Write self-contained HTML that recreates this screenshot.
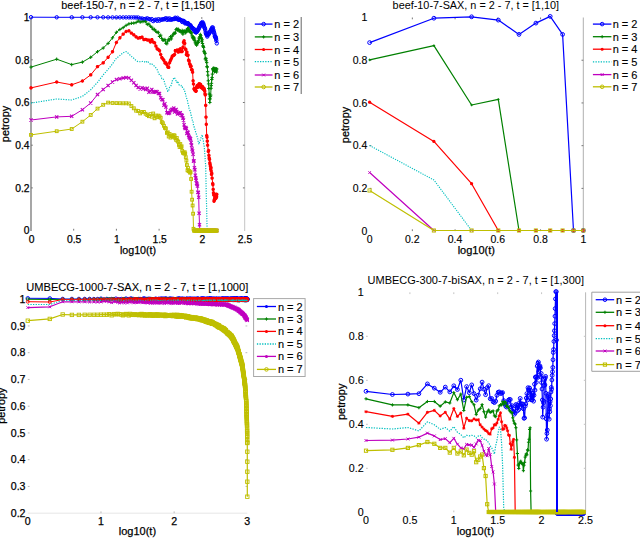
<!DOCTYPE html>
<html><head><meta charset="utf-8"><style>
html,body{margin:0;padding:0;background:#fff;width:640px;height:539px;overflow:hidden}
svg{display:block}
text{font-family:"Liberation Sans", sans-serif;fill:#000;stroke:#000;stroke-width:0.25px}
</style></head><body>
<svg width="640" height="539" viewBox="0 0 640 539">
<defs><marker id="bo" markerUnits="userSpaceOnUse" markerWidth="8" markerHeight="8" refX="4.0" refY="4.0" overflow="visible"><circle cx="4" cy="4" r="1.7" fill="none" stroke="#0000ff" stroke-width="1.0"/></marker><marker id="gp" markerUnits="userSpaceOnUse" markerWidth="8" markerHeight="8" refX="4.0" refY="4.0" overflow="visible"><path d="M2.3,4H5.7M4,2.3V5.7" stroke="#008000" stroke-width="1.0"/></marker><marker id="rs" markerUnits="userSpaceOnUse" markerWidth="8" markerHeight="8" refX="4.0" refY="4.0" overflow="visible"><path d="M2.3,4H5.7M4,2.3V5.7M2.81,2.81L5.1899999999999995,5.1899999999999995M2.81,5.1899999999999995L5.1899999999999995,2.81" stroke="#ff0000" stroke-width="1.1"/></marker><marker id="mx" markerUnits="userSpaceOnUse" markerWidth="8" markerHeight="8" refX="4.0" refY="4.0" overflow="visible"><path d="M2.4,2.4L5.6,5.6M2.4,5.6L5.6,2.4" stroke="#bf00bf" stroke-width="1.1"/></marker><marker id="ys" markerUnits="userSpaceOnUse" markerWidth="8" markerHeight="8" refX="4.0" refY="4.0" overflow="visible"><rect x="2.6" y="2.6" width="2.8" height="2.8" fill="none" stroke="#bfbf00" stroke-width="1.0"/></marker><marker id="bo2" markerUnits="userSpaceOnUse" markerWidth="8" markerHeight="8" refX="4.0" refY="4.0" overflow="visible"><circle cx="4" cy="4" r="1.9" fill="none" stroke="#0000ff" stroke-width="1.0"/></marker><marker id="gp2" markerUnits="userSpaceOnUse" markerWidth="8" markerHeight="8" refX="4.0" refY="4.0" overflow="visible"><path d="M2.7,4H5.3M4,2.7V5.3" stroke="#008000" stroke-width="0.9"/></marker><marker id="rd2" markerUnits="userSpaceOnUse" markerWidth="8" markerHeight="8" refX="4.0" refY="4.0" overflow="visible"><circle cx="4" cy="4" r="1.6" fill="#ff0000"/></marker><marker id="mx2" markerUnits="userSpaceOnUse" markerWidth="8" markerHeight="8" refX="4.0" refY="4.0" overflow="visible"><path d="M2.7,2.7L5.3,5.3M2.7,5.3L5.3,2.7" stroke="#bf00bf" stroke-width="0.9"/></marker><marker id="ys2" markerUnits="userSpaceOnUse" markerWidth="8" markerHeight="8" refX="4.0" refY="4.0" overflow="visible"><rect x="2.4" y="2.4" width="3.2" height="3.2" fill="none" stroke="#bfbf00" stroke-width="0.9"/></marker><marker id="bo3" markerUnits="userSpaceOnUse" markerWidth="8" markerHeight="8" refX="4.0" refY="4.0" overflow="visible"><circle cx="4" cy="4" r="1.8" fill="none" stroke="#0000ff" stroke-width="0.9"/></marker><marker id="go3" markerUnits="userSpaceOnUse" markerWidth="8" markerHeight="8" refX="4.0" refY="4.0" overflow="visible"><circle cx="4" cy="4" r="1.5" fill="none" stroke="#008000" stroke-width="0.9"/></marker><marker id="ro3" markerUnits="userSpaceOnUse" markerWidth="8" markerHeight="8" refX="4.0" refY="4.0" overflow="visible"><circle cx="4" cy="4" r="1.5" fill="none" stroke="#ff0000" stroke-width="0.9"/></marker><marker id="mx3" markerUnits="userSpaceOnUse" markerWidth="8" markerHeight="8" refX="4.0" refY="4.0" overflow="visible"><path d="M2.6,2.6L5.4,5.4M2.6,5.4L5.4,2.6" stroke="#bf00bf" stroke-width="0.9"/></marker><marker id="yo3" markerUnits="userSpaceOnUse" markerWidth="8" markerHeight="8" refX="4.0" refY="4.0" overflow="visible"><rect x="2.3" y="2.3" width="3.4" height="3.4" fill="none" stroke="#bfbf00" stroke-width="0.9"/></marker><marker id="bo4" markerUnits="userSpaceOnUse" markerWidth="8" markerHeight="8" refX="4.0" refY="4.0" overflow="visible"><circle cx="4" cy="4" r="1.9" fill="none" stroke="#0000ff" stroke-width="1.0"/></marker><marker id="gp4" markerUnits="userSpaceOnUse" markerWidth="8" markerHeight="8" refX="4.0" refY="4.0" overflow="visible"><path d="M2.4,4H5.6M4,2.4V5.6" stroke="#008000" stroke-width="1.0"/></marker><marker id="rs4" markerUnits="userSpaceOnUse" markerWidth="8" markerHeight="8" refX="4.0" refY="4.0" overflow="visible"><path d="M2.5,4H5.5M4,2.5V5.5M2.95,2.95L5.05,5.05M2.95,5.05L5.05,2.95" stroke="#ff0000" stroke-width="1.0"/></marker><marker id="mx4" markerUnits="userSpaceOnUse" markerWidth="8" markerHeight="8" refX="4.0" refY="4.0" overflow="visible"><path d="M2.6,2.6L5.4,5.4M2.6,5.4L5.4,2.6" stroke="#bf00bf" stroke-width="1.0"/></marker><marker id="ys4" markerUnits="userSpaceOnUse" markerWidth="8" markerHeight="8" refX="4.0" refY="4.0" overflow="visible"><rect x="2.4" y="2.4" width="3.2" height="3.2" fill="none" stroke="#bfbf00" stroke-width="1.0"/></marker></defs>
<line x1="31" y1="17" x2="31" y2="231" stroke="#6c6c6c" stroke-width="1.2" />
<line x1="244.7" y1="17" x2="244.7" y2="231" stroke="#c4c4c4" stroke-width="1" />
<text x="29.5" y="20.799999999999994" font-size="10.3" text-anchor="end" >1</text>
<text x="29.5" y="63.499999999999986" font-size="10.3" text-anchor="end" >0.8</text>
<text x="29.5" y="106.2" font-size="10.3" text-anchor="end" >0.6</text>
<text x="29.5" y="148.89999999999998" font-size="10.3" text-anchor="end" >0.4</text>
<text x="29.5" y="191.59999999999997" font-size="10.3" text-anchor="end" >0.2</text>
<text x="29.5" y="234.29999999999998" font-size="10.3" text-anchor="end" >0</text>
<text x="31.5" y="243" font-size="10.3" text-anchor="middle" >0</text>
<text x="74.2" y="243" font-size="10.3" text-anchor="middle" >0.5</text>
<text x="116.9" y="243" font-size="10.3" text-anchor="middle" >1</text>
<text x="159.60000000000002" y="243" font-size="10.3" text-anchor="middle" >1.5</text>
<text x="202.3" y="243" font-size="10.3" text-anchor="middle" >2</text>
<text x="245.0" y="243" font-size="10.3" text-anchor="middle" >2.5</text>
<text x="137.9" y="9" font-size="10.85" text-anchor="middle" style="stroke-width:0.1px">beef-150-7, n = 2 - 7, t = [1,150]</text>
<text x="138" y="253.5" font-size="10.7" text-anchor="middle" >log10(t)</text>
<text x="0" y="0" font-size="10.9" text-anchor="middle" transform="translate(9.2,124) rotate(-90)">petropy</text>
<line x1="583.3" y1="17.5" x2="583.3" y2="231" stroke="#b0b0b0" stroke-width="1" />
<text x="367.3" y="21.2" font-size="10.5" text-anchor="end" style="stroke-width:0.12px">1</text>
<text x="367.3" y="63.92" font-size="10.5" text-anchor="end" style="stroke-width:0.12px">0.8</text>
<text x="367.3" y="106.64" font-size="10.5" text-anchor="end" style="stroke-width:0.12px">0.6</text>
<text x="367.3" y="149.35999999999999" font-size="10.5" text-anchor="end" style="stroke-width:0.12px">0.4</text>
<text x="367.3" y="192.07999999999998" font-size="10.5" text-anchor="end" style="stroke-width:0.12px">0.2</text>
<text x="367.3" y="234.79999999999998" font-size="10.5" text-anchor="end" style="stroke-width:0.12px">0</text>
<text x="369.6" y="243" font-size="10.5" text-anchor="middle" style="stroke-width:0.12px">0</text>
<text x="412.34000000000003" y="243" font-size="10.5" text-anchor="middle" style="stroke-width:0.12px">0.2</text>
<text x="455.08000000000004" y="243" font-size="10.5" text-anchor="middle" style="stroke-width:0.12px">0.4</text>
<text x="497.82000000000005" y="243" font-size="10.5" text-anchor="middle" style="stroke-width:0.12px">0.6</text>
<text x="540.5600000000001" y="243" font-size="10.5" text-anchor="middle" style="stroke-width:0.12px">0.8</text>
<text x="583.3" y="243" font-size="10.5" text-anchor="middle" style="stroke-width:0.12px">1</text>
<text x="475.8" y="9" font-size="10.85" text-anchor="middle" style="stroke-width:0">beef-10-7-SAX, n = 2 - 7, t = [1,10]</text>
<text x="476.3" y="254.2" font-size="11.0" text-anchor="middle" >log10(t)</text>
<text x="0" y="0" font-size="10.9" text-anchor="middle" transform="translate(349,125) rotate(-90)">petropy</text>
<line x1="27.8" y1="513.2" x2="247.3" y2="513.2" stroke="#e6e6e6" stroke-width="1" />
<text x="25.5" y="302.9" font-size="10.6" text-anchor="end" >1</text>
<text x="25.5" y="329.65" font-size="10.6" text-anchor="end" >0.9</text>
<text x="25.5" y="356.4" font-size="10.6" text-anchor="end" >0.8</text>
<text x="25.5" y="383.15" font-size="10.6" text-anchor="end" >0.7</text>
<text x="25.5" y="409.9" font-size="10.6" text-anchor="end" >0.6</text>
<text x="25.5" y="436.65" font-size="10.6" text-anchor="end" >0.5</text>
<text x="25.5" y="463.4" font-size="10.6" text-anchor="end" >0.4</text>
<text x="25.5" y="490.15" font-size="10.6" text-anchor="end" >0.3</text>
<text x="25.5" y="516.9000000000001" font-size="10.6" text-anchor="end" >0.2</text>
<text x="27.8" y="524.5" font-size="10.6" text-anchor="middle" >0</text>
<text x="100.97" y="524.5" font-size="10.6" text-anchor="middle" >1</text>
<text x="174.14000000000001" y="524.5" font-size="10.6" text-anchor="middle" >2</text>
<text x="247.31" y="524.5" font-size="10.6" text-anchor="middle" >3</text>
<text x="137.3" y="290.8" font-size="11.1" text-anchor="middle" style="stroke-width:0.1px">UMBECG-1000-7-SAX, n = 2 - 7, t = [1,1000]</text>
<text x="137.4" y="535.4" font-size="11.0" text-anchor="middle" >log10(t)</text>
<text x="0" y="0" font-size="10.9" text-anchor="middle" transform="translate(4.5,405.7) rotate(-90)">petropy</text>
<line x1="585.6" y1="292.3" x2="585.6" y2="512" stroke="#b8b8b8" stroke-width="1" />
<text x="363.7" y="295.99999999999994" font-size="10.7" text-anchor="end" style="stroke-width:0.12px">1</text>
<text x="363.7" y="339.99999999999994" font-size="10.7" text-anchor="end" style="stroke-width:0.12px">0.8</text>
<text x="363.7" y="383.99999999999994" font-size="10.7" text-anchor="end" style="stroke-width:0.12px">0.6</text>
<text x="363.7" y="427.99999999999994" font-size="10.7" text-anchor="end" style="stroke-width:0.12px">0.4</text>
<text x="363.7" y="471.99999999999994" font-size="10.7" text-anchor="end" style="stroke-width:0.12px">0.2</text>
<text x="363.7" y="516.0" font-size="10.7" text-anchor="end" style="stroke-width:0.12px">0</text>
<text x="366.0" y="524.3" font-size="10.7" text-anchor="middle" style="stroke-width:0.12px">0</text>
<text x="409.9" y="524.3" font-size="10.7" text-anchor="middle" style="stroke-width:0.12px">0.5</text>
<text x="453.8" y="524.3" font-size="10.7" text-anchor="middle" style="stroke-width:0.12px">1</text>
<text x="497.7" y="524.3" font-size="10.7" text-anchor="middle" style="stroke-width:0.12px">1.5</text>
<text x="541.6" y="524.3" font-size="10.7" text-anchor="middle" style="stroke-width:0.12px">2</text>
<text x="585.5" y="524.3" font-size="10.7" text-anchor="middle" style="stroke-width:0.12px">2.5</text>
<text x="475.8" y="283.5" font-size="11.0" text-anchor="middle" style="stroke-width:0">UMBECG-300-7-biSAX, n = 2 - 7, t = [1,300]</text>
<text x="475.4" y="535.4" font-size="11.0" text-anchor="middle" >log10(t)</text>
<text x="0" y="0" font-size="10.9" text-anchor="middle" transform="translate(344.5,401.8) rotate(-90)">petropy</text>
<line x1="73.7" y1="228.79999999999998" x2="73.7" y2="230.6" stroke="#777" stroke-width="1" />
<line x1="73.7" y1="17.1" x2="73.7" y2="18.900000000000002" stroke="#777" stroke-width="1" />
<line x1="116.4" y1="228.79999999999998" x2="116.4" y2="230.6" stroke="#777" stroke-width="1" />
<line x1="116.4" y1="17.1" x2="116.4" y2="18.900000000000002" stroke="#777" stroke-width="1" />
<line x1="159.10000000000002" y1="228.79999999999998" x2="159.10000000000002" y2="230.6" stroke="#777" stroke-width="1" />
<line x1="159.10000000000002" y1="17.1" x2="159.10000000000002" y2="18.900000000000002" stroke="#777" stroke-width="1" />
<line x1="201.8" y1="228.79999999999998" x2="201.8" y2="230.6" stroke="#777" stroke-width="1" />
<line x1="201.8" y1="17.1" x2="201.8" y2="18.900000000000002" stroke="#777" stroke-width="1" />
<line x1="31" y1="187.89999999999998" x2="32.8" y2="187.89999999999998" stroke="#777" stroke-width="1" />
<line x1="242.89999999999998" y1="187.89999999999998" x2="244.7" y2="187.89999999999998" stroke="#777" stroke-width="1" />
<line x1="31" y1="145.2" x2="32.8" y2="145.2" stroke="#777" stroke-width="1" />
<line x1="242.89999999999998" y1="145.2" x2="244.7" y2="145.2" stroke="#777" stroke-width="1" />
<line x1="31" y1="102.5" x2="32.8" y2="102.5" stroke="#777" stroke-width="1" />
<line x1="242.89999999999998" y1="102.5" x2="244.7" y2="102.5" stroke="#777" stroke-width="1" />
<line x1="31" y1="59.79999999999998" x2="32.8" y2="59.79999999999998" stroke="#777" stroke-width="1" />
<line x1="242.89999999999998" y1="59.79999999999998" x2="244.7" y2="59.79999999999998" stroke="#777" stroke-width="1" />
<line x1="412.34000000000003" y1="229.29999999999998" x2="412.34000000000003" y2="231.1" stroke="#777" stroke-width="1" />
<line x1="412.34000000000003" y1="17.5" x2="412.34000000000003" y2="19.3" stroke="#777" stroke-width="1" />
<line x1="455.08000000000004" y1="229.29999999999998" x2="455.08000000000004" y2="231.1" stroke="#777" stroke-width="1" />
<line x1="455.08000000000004" y1="17.5" x2="455.08000000000004" y2="19.3" stroke="#777" stroke-width="1" />
<line x1="497.82000000000005" y1="229.29999999999998" x2="497.82000000000005" y2="231.1" stroke="#777" stroke-width="1" />
<line x1="497.82000000000005" y1="17.5" x2="497.82000000000005" y2="19.3" stroke="#777" stroke-width="1" />
<line x1="540.5600000000001" y1="229.29999999999998" x2="540.5600000000001" y2="231.1" stroke="#777" stroke-width="1" />
<line x1="540.5600000000001" y1="17.5" x2="540.5600000000001" y2="19.3" stroke="#777" stroke-width="1" />
<line x1="369.6" y1="188.38" x2="371.40000000000003" y2="188.38" stroke="#777" stroke-width="1" />
<line x1="581.5" y1="188.38" x2="583.3" y2="188.38" stroke="#777" stroke-width="1" />
<line x1="369.6" y1="145.66" x2="371.40000000000003" y2="145.66" stroke="#777" stroke-width="1" />
<line x1="581.5" y1="145.66" x2="583.3" y2="145.66" stroke="#777" stroke-width="1" />
<line x1="369.6" y1="102.94" x2="371.40000000000003" y2="102.94" stroke="#777" stroke-width="1" />
<line x1="581.5" y1="102.94" x2="583.3" y2="102.94" stroke="#777" stroke-width="1" />
<line x1="369.6" y1="60.22" x2="371.40000000000003" y2="60.22" stroke="#777" stroke-width="1" />
<line x1="581.5" y1="60.22" x2="583.3" y2="60.22" stroke="#777" stroke-width="1" />
<line x1="100.97" y1="511.40000000000003" x2="100.97" y2="513.2" stroke="#bbb" stroke-width="1" />
<line x1="100.97" y1="299.2" x2="100.97" y2="301.0" stroke="#bbb" stroke-width="1" />
<line x1="174.14000000000001" y1="511.40000000000003" x2="174.14000000000001" y2="513.2" stroke="#bbb" stroke-width="1" />
<line x1="174.14000000000001" y1="299.2" x2="174.14000000000001" y2="301.0" stroke="#bbb" stroke-width="1" />
<line x1="27.8" y1="486.45" x2="29.6" y2="486.45" stroke="#bbb" stroke-width="1" />
<line x1="245.5" y1="486.45" x2="247.3" y2="486.45" stroke="#bbb" stroke-width="1" />
<line x1="27.8" y1="459.7" x2="29.6" y2="459.7" stroke="#bbb" stroke-width="1" />
<line x1="245.5" y1="459.7" x2="247.3" y2="459.7" stroke="#bbb" stroke-width="1" />
<line x1="27.8" y1="432.95" x2="29.6" y2="432.95" stroke="#bbb" stroke-width="1" />
<line x1="245.5" y1="432.95" x2="247.3" y2="432.95" stroke="#bbb" stroke-width="1" />
<line x1="27.8" y1="406.2" x2="29.6" y2="406.2" stroke="#bbb" stroke-width="1" />
<line x1="245.5" y1="406.2" x2="247.3" y2="406.2" stroke="#bbb" stroke-width="1" />
<line x1="27.8" y1="379.45" x2="29.6" y2="379.45" stroke="#bbb" stroke-width="1" />
<line x1="245.5" y1="379.45" x2="247.3" y2="379.45" stroke="#bbb" stroke-width="1" />
<line x1="27.8" y1="352.7" x2="29.6" y2="352.7" stroke="#bbb" stroke-width="1" />
<line x1="245.5" y1="352.7" x2="247.3" y2="352.7" stroke="#bbb" stroke-width="1" />
<line x1="27.8" y1="325.95" x2="29.6" y2="325.95" stroke="#bbb" stroke-width="1" />
<line x1="245.5" y1="325.95" x2="247.3" y2="325.95" stroke="#bbb" stroke-width="1" />
<line x1="409.9" y1="510.49999999999994" x2="409.9" y2="512.3" stroke="#c4c4c4" stroke-width="1" />
<line x1="409.9" y1="292.3" x2="409.9" y2="294.1" stroke="#c4c4c4" stroke-width="1" />
<line x1="453.8" y1="510.49999999999994" x2="453.8" y2="512.3" stroke="#c4c4c4" stroke-width="1" />
<line x1="453.8" y1="292.3" x2="453.8" y2="294.1" stroke="#c4c4c4" stroke-width="1" />
<line x1="497.7" y1="510.49999999999994" x2="497.7" y2="512.3" stroke="#c4c4c4" stroke-width="1" />
<line x1="497.7" y1="292.3" x2="497.7" y2="294.1" stroke="#c4c4c4" stroke-width="1" />
<line x1="541.6" y1="510.49999999999994" x2="541.6" y2="512.3" stroke="#c4c4c4" stroke-width="1" />
<line x1="541.6" y1="292.3" x2="541.6" y2="294.1" stroke="#c4c4c4" stroke-width="1" />
<line x1="366" y1="468.29999999999995" x2="367.8" y2="468.29999999999995" stroke="#c4c4c4" stroke-width="1" />
<line x1="583.8000000000001" y1="468.29999999999995" x2="585.6" y2="468.29999999999995" stroke="#c4c4c4" stroke-width="1" />
<line x1="366" y1="424.29999999999995" x2="367.8" y2="424.29999999999995" stroke="#c4c4c4" stroke-width="1" />
<line x1="583.8000000000001" y1="424.29999999999995" x2="585.6" y2="424.29999999999995" stroke="#c4c4c4" stroke-width="1" />
<line x1="366" y1="380.29999999999995" x2="367.8" y2="380.29999999999995" stroke="#c4c4c4" stroke-width="1" />
<line x1="583.8000000000001" y1="380.29999999999995" x2="585.6" y2="380.29999999999995" stroke="#c4c4c4" stroke-width="1" />
<line x1="366" y1="336.29999999999995" x2="367.8" y2="336.29999999999995" stroke="#c4c4c4" stroke-width="1" />
<line x1="583.8000000000001" y1="336.29999999999995" x2="585.6" y2="336.29999999999995" stroke="#c4c4c4" stroke-width="1" />
<line x1="254.8" y1="24.1" x2="272.5" y2="24.1" stroke="#0000ff" stroke-width="1.3" />
<circle cx="263.65" cy="24.1" r="1.8" fill="none" stroke="#0000ff" stroke-width="1"/>
<text x="274.3" y="28.1" font-size="11" text-anchor="start" style="stroke-width:0.12px">n = 2</text>
<line x1="254.8" y1="36.9" x2="272.5" y2="36.9" stroke="#008000" stroke-width="1.3" />
<path d="M262.04999999999995,36.9H265.25M263.65,35.3V38.5" stroke="#008000" stroke-width="1"/>
<text x="274.3" y="40.9" font-size="11" text-anchor="start" style="stroke-width:0.12px">n = 3</text>
<line x1="254.8" y1="49.5" x2="272.5" y2="49.5" stroke="#ff0000" stroke-width="1.3" />
<circle cx="263.65" cy="49.5" r="1.5" fill="#ff0000"/>
<text x="274.3" y="53.5" font-size="11" text-anchor="start" style="stroke-width:0.12px">n = 4</text>
<line x1="254.8" y1="61.6" x2="272.5" y2="61.6" stroke="#00bfbf" stroke-width="1.3" stroke-dasharray="1.3,1.3"/>
<text x="274.3" y="65.6" font-size="11" text-anchor="start" style="stroke-width:0.12px">n = 5</text>
<line x1="254.8" y1="75" x2="272.5" y2="75" stroke="#bf00bf" stroke-width="1.3" />
<path d="M262.25,73.6L265.04999999999995,76.4M262.25,76.4L265.04999999999995,73.6" stroke="#bf00bf" stroke-width="1"/>
<text x="274.3" y="79" font-size="11" text-anchor="start" style="stroke-width:0.12px">n = 6</text>
<line x1="254.8" y1="87" x2="272.5" y2="87" stroke="#bfbf00" stroke-width="1.3" />
<circle cx="263.65" cy="87" r="1.8" fill="none" stroke="#bfbf00" stroke-width="1"/>
<text x="274.3" y="91" font-size="11" text-anchor="start" style="stroke-width:0.12px">n = 7</text>
<line x1="301.2" y1="17" x2="301.2" y2="94" stroke="#666" stroke-width="1" />
<line x1="592.9" y1="24.1" x2="611.4" y2="24.1" stroke="#0000ff" stroke-width="1.3" />
<circle cx="602.15" cy="24.1" r="1.8" fill="none" stroke="#0000ff" stroke-width="1"/>
<text x="612.7" y="28.1" font-size="11" text-anchor="start" style="stroke-width:0.12px">n = 2</text>
<line x1="592.9" y1="36.7" x2="611.4" y2="36.7" stroke="#008000" stroke-width="1.3" />
<path d="M600.55,36.7H603.75M602.15,35.1V38.300000000000004" stroke="#008000" stroke-width="1"/>
<text x="612.7" y="40.7" font-size="11" text-anchor="start" style="stroke-width:0.12px">n = 3</text>
<line x1="592.9" y1="49.2" x2="611.4" y2="49.2" stroke="#ff0000" stroke-width="1.3" />
<circle cx="602.15" cy="49.2" r="1.5" fill="#ff0000"/>
<text x="612.7" y="53.2" font-size="11" text-anchor="start" style="stroke-width:0.12px">n = 4</text>
<line x1="592.9" y1="61.8" x2="611.4" y2="61.8" stroke="#00bfbf" stroke-width="1.3" stroke-dasharray="1.3,1.3"/>
<text x="612.7" y="65.8" font-size="11" text-anchor="start" style="stroke-width:0.12px">n = 5</text>
<line x1="592.9" y1="74.6" x2="611.4" y2="74.6" stroke="#bf00bf" stroke-width="1.3" />
<path d="M600.75,73.19999999999999L603.55,76.0M600.75,76.0L603.55,73.19999999999999" stroke="#bf00bf" stroke-width="1"/>
<text x="612.7" y="78.6" font-size="11" text-anchor="start" style="stroke-width:0.12px">n = 6</text>
<line x1="592.9" y1="86.8" x2="611.4" y2="86.8" stroke="#bfbf00" stroke-width="1.3" />
<circle cx="602.15" cy="86.8" r="1.8" fill="none" stroke="#bfbf00" stroke-width="1"/>
<text x="612.7" y="90.8" font-size="11" text-anchor="start" style="stroke-width:0.12px">n = 7</text>
<line x1="256.9" y1="306.5" x2="276" y2="306.5" stroke="#0000ff" stroke-width="1.3" />
<circle cx="266.45" cy="306.5" r="1.5" fill="#0000ff"/>
<text x="277.9" y="310.5" font-size="11" text-anchor="start" style="stroke-width:0.12px">n = 2</text>
<line x1="256.9" y1="319" x2="276" y2="319" stroke="#008000" stroke-width="1.3" />
<path d="M264.84999999999997,319H268.05M266.45,317.4V320.6" stroke="#008000" stroke-width="1"/>
<text x="277.9" y="323" font-size="11" text-anchor="start" style="stroke-width:0.12px">n = 3</text>
<line x1="256.9" y1="331.4" x2="276" y2="331.4" stroke="#ff0000" stroke-width="1.3" />
<circle cx="266.45" cy="331.4" r="1.5" fill="#ff0000"/>
<text x="277.9" y="335.4" font-size="11" text-anchor="start" style="stroke-width:0.12px">n = 4</text>
<line x1="256.9" y1="344" x2="276" y2="344" stroke="#00bfbf" stroke-width="1.3" stroke-dasharray="1.3,1.3"/>
<text x="277.9" y="348" font-size="11" text-anchor="start" style="stroke-width:0.12px">n = 5</text>
<line x1="256.9" y1="356.4" x2="276" y2="356.4" stroke="#bf00bf" stroke-width="1.3" />
<circle cx="266.45" cy="356.4" r="1.5" fill="#bf00bf"/>
<text x="277.9" y="360.4" font-size="11" text-anchor="start" style="stroke-width:0.12px">n = 6</text>
<line x1="256.9" y1="369.4" x2="276" y2="369.4" stroke="#bfbf00" stroke-width="1.3" />
<circle cx="266.45" cy="369.4" r="1.8" fill="none" stroke="#bfbf00" stroke-width="1"/>
<text x="277.9" y="373.4" font-size="11" text-anchor="start" style="stroke-width:0.12px">n = 7</text>
<rect x="253.6" y="298.6" width="51.5" height="77.9" fill="none" stroke="#a8a8a8" stroke-width="1"/>
<line x1="595.7" y1="299.7" x2="614.2" y2="299.7" stroke="#0000ff" stroke-width="1.3" />
<circle cx="604.95" cy="299.7" r="1.8" fill="none" stroke="#0000ff" stroke-width="1"/>
<text x="616" y="303.7" font-size="11" text-anchor="start" style="stroke-width:0.12px">n = 2</text>
<line x1="595.7" y1="312.3" x2="614.2" y2="312.3" stroke="#008000" stroke-width="1.3" />
<path d="M603.35,312.3H606.5500000000001M604.95,310.7V313.90000000000003" stroke="#008000" stroke-width="1"/>
<text x="616" y="316.3" font-size="11" text-anchor="start" style="stroke-width:0.12px">n = 3</text>
<line x1="595.7" y1="325.7" x2="614.2" y2="325.7" stroke="#ff0000" stroke-width="1.3" />
<circle cx="604.95" cy="325.7" r="1.5" fill="#ff0000"/>
<text x="616" y="329.7" font-size="11" text-anchor="start" style="stroke-width:0.12px">n = 4</text>
<line x1="595.7" y1="338.6" x2="614.2" y2="338.6" stroke="#00bfbf" stroke-width="1.3" stroke-dasharray="1.3,1.3"/>
<text x="616" y="342.6" font-size="11" text-anchor="start" style="stroke-width:0.12px">n = 5</text>
<line x1="595.7" y1="351" x2="614.2" y2="351" stroke="#bf00bf" stroke-width="1.3" />
<path d="M603.5500000000001,349.6L606.35,352.4M603.5500000000001,352.4L606.35,349.6" stroke="#bf00bf" stroke-width="1"/>
<text x="616" y="355" font-size="11" text-anchor="start" style="stroke-width:0.12px">n = 6</text>
<line x1="595.7" y1="364.6" x2="614.2" y2="364.6" stroke="#bfbf00" stroke-width="1.3" />
<rect x="603.35" y="363.0" width="3.2" height="3.2" fill="none" stroke="#bfbf00" stroke-width="1"/>
<text x="616" y="368.6" font-size="11" text-anchor="start" style="stroke-width:0.12px">n = 7</text>
<path d="M645,292.2H591.8V371.3H645" fill="none" stroke="#a0a0a0" stroke-width="1"/>
<polyline points="31.0,17.2 56.7,17.3 71.7,17.3 82.4,17.3 90.7,17.3 97.5,17.3 103.2,17.3 108.1,17.4 112.5,17.4 116.4,17.4 119.9,17.4 123.2,17.4 126.1,17.4 128.9,17.4 131.4,17.4 133.8,17.4 136.1,17.5 138.2,17.5 140.2,18.5 142.1,18.5 143.9,19.0 145.6,18.9 147.3,18.3 148.9,19.0 150.4,19.6 151.8,19.1 153.2,21.1 154.6,20.1 155.9,19.6 157.1,20.8 158.4,19.2 159.5,20.7 160.7,19.6 161.8,19.7 162.9,19.2 163.9,19.4 164.9,18.7 165.9,18.3 166.9,19.9 167.8,18.6 168.7,19.6 169.6,18.4 170.5,19.8 171.4,19.6 172.2,19.2 173.0,19.2 173.8,18.8 174.6,19.0 175.3,17.7 176.1,18.4 176.8,19.0 177.5,17.8 178.3,19.6 178.9,19.9 179.6,19.4 180.3,19.7 181.0,20.2 181.6,20.4 182.2,22.0 182.9,21.1 183.5,20.8 184.1,21.2 184.7,22.7 185.2,23.5 185.8,22.7 186.4,23.0 186.9,23.3 187.5,23.9 188.0,23.1 188.6,24.1 189.1,24.6 189.6,25.3 190.1,25.0 190.6,25.5 191.1,26.5 191.6,28.2 192.1,27.6 192.6,28.6 193.1,28.6 193.5,28.7 194.0,29.1 194.4,31.2 194.9,31.6 195.3,31.3 195.8,32.4 196.2,32.3 196.6,32.1 197.1,31.5 197.5,29.8 197.9,30.3 198.3,29.6 198.7,28.2 199.1,28.1 199.5,26.7 199.9,25.9 200.3,25.0 200.7,25.7 201.1,23.6 201.4,22.8 201.8,23.7 202.2,23.1 202.5,22.1 202.9,23.9 203.3,23.4 203.6,24.9 204.0,26.0 204.3,27.3 204.7,27.9 205.0,28.7 205.3,30.3 205.7,32.4 206.0,33.6 206.3,34.2 206.7,34.6 207.0,35.2 207.3,36.6 207.6,35.3 208.3,33.3 208.9,34.0 209.2,33.5 209.8,32.2 210.1,31.4 210.7,31.4 211.0,29.8 211.5,28.9 211.8,29.5 212.1,27.5 212.4,28.5 212.9,27.5 213.2,29.6 213.5,30.7 213.7,32.1 214.0,32.5 214.5,34.1 214.8,36.2 215.1,37.0 215.3,36.4 215.6,37.2 215.8,38.2 216.1,39.0 216.3,40.7 216.8,43.4" fill="none" stroke="#0000ff" stroke-width="1.0" stroke-linejoin="round" marker-start="url(#bo)" marker-mid="url(#bo)" marker-end="url(#bo)"/>
<polyline points="31.0,67.1 56.7,59.2 71.7,64.6 82.4,62.1 90.7,57.3 97.5,51.7 103.2,48.0 108.1,43.4 112.5,37.8 116.4,32.3 119.9,29.5 123.2,27.6 126.1,25.4 128.9,23.9 131.4,23.3 133.8,23.1 136.1,22.5 138.2,21.0 140.2,22.1 142.1,21.6 143.9,21.5 145.6,21.6 147.3,24.4 148.9,24.0 150.4,26.3 151.8,27.2 153.2,29.5 154.6,29.4 155.9,31.3 157.1,32.4 158.4,32.3 159.5,36.5 160.7,35.2 161.8,38.4 162.9,40.3 163.9,40.3 164.9,39.5 165.9,43.3 166.9,43.8 167.8,41.1 168.7,39.2 169.6,39.9 170.5,36.6 171.4,38.9 172.2,36.0 173.0,34.9 173.8,33.3 174.6,33.2 175.3,33.1 176.1,29.6 176.8,28.8 177.5,30.0 178.3,29.2 178.9,30.8 179.6,30.9 180.3,30.8 181.0,32.1 181.6,31.9 182.2,30.4 182.9,34.2 183.5,31.4 184.1,31.4 184.7,31.0 185.2,32.8 185.8,32.6 186.4,30.6 186.9,29.9 187.5,28.4 188.0,31.3 188.6,28.2 189.1,30.6 189.6,30.7 190.1,31.5 190.6,32.6 191.1,32.8 191.6,33.0 192.1,35.9 192.6,37.8 193.1,38.0 193.5,37.1 194.0,39.9 194.4,38.1 194.9,40.4 195.3,42.8 195.8,44.0 196.2,42.9 196.6,45.2 197.1,43.9 197.5,42.8 197.9,41.9 198.3,42.4 198.7,40.3 199.1,38.1 199.5,38.0 199.9,36.6 200.3,34.4 200.7,35.6 201.1,37.6 201.4,38.6 201.8,41.7 202.2,39.8 202.5,43.5 202.9,45.8 203.3,46.4 203.6,47.4 204.0,51.2 204.3,51.9 204.7,52.9 205.0,53.6 205.3,59.0 205.7,58.2 206.0,58.8 206.3,60.8 206.7,62.6 207.0,66.6 207.3,67.1 207.6,71.7 207.9,75.2 208.3,80.8 208.6,83.9 208.9,88.5 209.2,94.1 209.5,98.9 209.8,102.5 210.1,98.9 210.4,96.7 210.7,95.1 211.0,88.3 211.2,85.6 211.5,83.3 211.8,79.5 212.1,77.6 212.4,74.1 212.7,69.8 212.9,68.5 213.5,68.8 213.7,68.1 214.0,70.6 214.3,68.6 214.5,71.7 214.8,70.8 215.1,68.6 215.3,70.4 215.6,70.9 215.8,68.8 216.1,70.7 216.3,68.9 216.6,72.0 216.8,69.0" fill="none" stroke="#008000" stroke-width="1.0" stroke-linejoin="round" marker-start="url(#gp)" marker-mid="url(#gp)" marker-end="url(#gp)"/>
<polyline points="31.0,87.9 56.7,82.0 71.7,84.8 82.4,81.0 90.7,74.9 97.5,66.6 103.2,62.9 108.1,57.3 112.5,51.7 116.4,42.5 119.9,37.8 123.2,34.1 126.1,31.5 128.9,30.9 131.4,33.1 133.8,34.9 136.1,36.9 138.2,38.1 140.2,37.7 142.1,37.2 143.9,39.6 145.6,39.4 147.3,40.0 148.9,40.1 150.4,42.0 151.8,39.6 153.2,42.0 154.6,42.8 155.9,46.1 157.1,48.8 158.4,49.5 159.5,50.7 160.7,54.5 161.8,57.6 162.9,59.0 163.9,60.3 164.9,63.0 165.9,62.8 166.9,64.6 167.8,67.0 168.7,67.4 169.6,62.7 170.5,60.4 171.4,58.5 172.2,56.4 173.0,55.6 173.8,55.2 174.6,54.5 175.3,50.7 176.1,50.8 176.8,50.3 177.5,50.2 178.3,52.1 178.9,51.0 179.6,49.6 180.3,48.8 181.0,51.6 181.6,51.1 182.2,51.5 182.9,47.3 183.5,42.4 184.1,40.8 184.7,43.4 185.2,49.0 185.8,49.4 186.4,54.6 186.9,52.1 187.5,55.3 188.0,55.1 188.6,60.1 189.1,61.1 189.6,63.8 190.1,64.5 190.6,66.6 191.1,66.2 191.6,69.6 192.1,69.9 192.6,72.2 193.1,80.8 193.5,84.0 194.0,88.8 194.4,89.3 194.9,90.4 195.3,88.6 195.8,91.3 196.2,90.8 196.6,87.0 197.1,85.9 197.5,87.3 197.9,85.1 198.3,86.2 198.7,86.9 199.1,83.9 199.5,84.1 199.9,86.2 200.3,84.5 200.7,84.5 201.1,87.3 201.4,87.3 201.8,88.0 202.2,87.5 202.5,86.6 202.9,88.2 203.3,89.2 203.6,88.9 204.0,88.3 204.3,89.6 204.7,91.1 205.0,93.8 205.3,94.9 205.7,105.4 206.0,117.1 206.3,124.3 206.7,135.5 207.0,137.2 207.3,141.1 207.6,145.2 208.3,151.5 208.6,150.5 208.9,155.4 209.2,158.1 209.5,159.4 209.8,162.8 210.1,164.4 210.4,166.2 210.7,169.1 211.0,167.6 211.2,171.0 211.5,174.4 211.8,173.3 212.1,178.1 212.7,183.5 212.9,184.7 213.2,189.4 213.5,192.9 213.7,195.0 214.0,201.2 214.3,199.7 214.5,200.0 214.8,198.9 215.1,198.4 215.3,197.8 215.6,196.2 215.8,198.4 216.1,194.3 216.3,197.3 216.6,196.7 216.8,194.4" fill="none" stroke="#ff0000" stroke-width="1.0" stroke-linejoin="round" marker-start="url(#rs)" marker-mid="url(#rs)" marker-end="url(#rs)"/>
<polyline points="31.0,103.1 56.7,99.0 71.7,100.0 82.4,96.4 90.7,89.8 97.5,82.3 103.2,74.9 108.1,69.4 112.5,63.8 116.4,58.2 119.9,55.5 123.2,52.7 126.1,51.6 128.9,53.9 131.4,56.4 133.8,58.3 136.1,60.6 138.2,61.8 140.2,61.7 142.1,61.5 143.9,61.4 145.6,62.7 147.3,61.1 148.9,62.8 150.4,64.2 151.8,63.8 153.2,65.3 154.6,66.3 155.9,67.9 157.1,69.5 158.4,72.8 159.5,74.9 160.7,75.3 161.8,78.6 162.9,78.4 163.9,80.2 164.9,83.7 165.9,86.4 166.9,88.8 167.8,91.5 168.7,90.5 169.6,87.1 170.5,86.3 171.4,84.9 172.2,81.0 173.0,80.2 173.8,77.6 174.6,77.8 175.3,79.5 176.1,80.8 176.8,82.4 177.5,81.2 178.3,82.9 178.9,84.8 179.6,85.1 180.3,85.3 181.0,85.3 181.6,87.0 182.2,86.8 182.9,88.5 183.5,89.2 184.1,89.2 184.7,91.3 185.2,92.6 185.8,95.0 186.4,98.0 186.9,98.8 187.5,100.7 188.0,103.8 188.6,105.5 189.1,108.5 189.6,109.0 190.1,111.3 190.6,112.5 191.1,115.3 191.6,116.7 192.1,118.9 192.6,121.4 193.1,121.4 193.5,125.4 194.0,126.4 194.4,128.3 194.9,129.3 195.3,131.0 195.8,132.2 196.2,133.8 196.6,134.9 197.1,136.5 197.5,137.9 197.9,139.5 198.3,142.2 198.7,143.4 199.1,144.3 199.5,141.5 199.9,140.8 200.3,140.2 200.7,139.3 201.1,137.3 201.4,136.6 201.8,136.0 202.2,134.7 202.5,136.9 202.9,139.8 203.3,140.6 203.6,143.5 204.0,144.5 204.3,147.5 204.7,152.6 205.0,155.7 205.3,161.4 205.7,165.5 206.0,179.3 206.3,195.6 206.7,209.3 207.0,225.0 207.3,230.6 207.9,230.6 208.6,230.6 209.2,230.6 209.8,230.6 210.4,230.6 211.0,230.6 211.5,230.6 212.1,230.6 212.7,230.6 213.2,230.6 213.7,230.6 214.3,230.6 214.8,230.6 215.3,230.6 215.8,230.6 216.3,230.6 216.8,230.6" fill="none" stroke="#00bfbf" stroke-width="1.2" stroke-linejoin="round" stroke-dasharray="1.2,1.3"/>
<polyline points="31.0,120.0 56.7,116.9 71.7,116.3 82.4,109.7 90.7,103.0 97.5,94.6 103.2,89.5 108.1,85.5 112.5,82.0 116.4,79.5 119.9,78.7 123.2,77.9 126.1,77.6 128.9,78.0 131.4,80.3 133.8,82.7 136.1,85.4 138.2,87.4 140.2,89.0 142.1,87.8 143.9,88.6 145.6,89.4 147.3,88.3 148.9,92.2 150.4,91.3 151.8,89.4 153.2,92.2 154.6,91.9 155.9,91.4 157.1,91.8 158.4,93.6 159.5,93.4 160.7,97.8 161.8,99.6 162.9,99.8 163.9,105.2 164.9,103.7 165.9,107.1 166.9,112.8 167.8,112.6 168.7,113.4 169.6,112.7 170.5,110.8 171.4,109.8 172.2,109.2 173.0,109.6 173.8,108.1 174.6,112.1 175.3,110.1 176.1,109.5 176.8,111.6 177.5,113.9 178.3,113.4 178.9,113.1 179.6,113.6 180.3,112.8 181.0,115.0 181.6,115.0 182.2,115.8 182.9,118.1 183.5,120.0 184.1,124.7 184.7,127.5 185.2,128.6 185.8,127.5 186.4,128.5 186.9,133.4 187.5,132.1 188.0,132.4 188.6,135.4 189.1,136.9 189.6,137.7 190.1,138.5 190.6,138.9 191.1,142.5 191.6,145.2 192.1,149.1 192.6,150.9 193.1,154.3 193.5,161.1 194.0,160.9 194.4,167.7 194.9,169.8 195.3,175.3 195.8,178.1 196.2,180.3 196.6,183.3 197.1,184.3 197.5,186.1 197.9,192.2 198.3,192.6 198.7,197.3 199.1,213.3 199.5,224.8 199.9,230.6 200.3,230.6 200.7,230.6 201.1,230.6 201.4,230.6 201.8,230.6 202.2,230.6 202.5,230.6 202.9,230.6 203.3,230.6 203.6,230.6 204.0,230.6 204.7,230.6 205.3,230.6 206.0,230.6 206.7,230.6 207.3,230.6 207.9,230.6 208.6,230.6 209.2,230.6 209.8,230.6 210.4,230.6 211.0,230.6 211.5,230.6 212.1,230.6 212.7,230.6 213.2,230.6 213.7,230.6 214.3,230.6 214.8,230.6 215.3,230.6 215.8,230.6 216.3,230.6 216.8,230.6" fill="none" stroke="#bf00bf" stroke-width="1.0" stroke-linejoin="round" marker-start="url(#mx)" marker-mid="url(#mx)" marker-end="url(#mx)"/>
<polyline points="31.0,134.9 56.7,131.2 71.7,129.0 82.4,121.7 90.7,115.0 97.5,108.6 103.2,104.8 108.1,102.6 112.5,103.0 116.4,103.1 119.9,103.2 123.2,103.3 126.1,103.3 128.9,103.5 131.4,106.0 133.8,108.3 136.1,110.7 138.2,111.0 140.2,113.4 142.1,111.9 143.9,111.9 145.6,113.8 147.3,115.1 148.9,116.2 150.4,114.1 151.8,116.7 153.2,113.5 154.6,118.3 155.9,115.6 157.1,117.2 158.4,115.6 159.5,116.4 160.7,117.8 161.8,122.0 162.9,123.2 163.9,125.8 164.9,127.9 165.9,128.5 166.9,132.9 167.8,132.3 168.7,136.5 169.6,134.0 170.5,137.6 171.4,135.5 172.2,136.1 173.0,136.9 173.8,135.2 174.6,135.6 175.3,138.2 176.1,139.9 176.8,138.0 177.5,140.9 178.3,141.9 178.9,144.9 179.6,147.0 180.3,144.0 181.0,147.1 181.6,146.3 182.2,150.7 182.9,152.7 183.5,152.8 184.1,153.5 184.7,152.2 185.2,153.6 185.8,157.2 186.4,160.6 186.9,165.0 187.5,170.3 188.0,168.0 188.6,171.1 189.1,171.0 189.6,171.6 190.1,172.7 190.6,172.2 191.1,179.0 191.6,191.7 192.1,199.7 192.6,205.5 193.1,213.7 193.5,228.8 194.0,230.6 194.4,230.6 194.9,230.6 195.3,230.6 195.8,230.6 196.2,230.6 196.6,230.6 197.1,230.6 197.5,230.6 197.9,230.6 198.3,230.6 198.7,230.6 199.1,230.6 199.5,230.6 199.9,230.6 200.3,230.6 200.7,230.6 201.1,230.6 201.4,230.6 201.8,230.6 202.2,230.6 202.5,230.6 202.9,230.6 203.3,230.6 203.6,230.6 204.0,230.6 204.7,230.6 205.3,230.6 206.0,230.6 206.7,230.6 207.3,230.6 207.9,230.6 208.6,230.6 209.2,230.6 209.8,230.6 210.4,230.6 211.0,230.6 211.5,230.6 212.1,230.6 212.7,230.6 213.2,230.6 213.7,230.6 214.3,230.6 214.8,230.6 215.3,230.6 215.8,230.6 216.3,230.6 216.8,230.6" fill="none" stroke="#bfbf00" stroke-width="1.0" stroke-linejoin="round" marker-start="url(#ys)" marker-mid="url(#ys)" marker-end="url(#ys)"/>
<polyline points="369.6,42.6 433.9,18.2 471.6,16.8 498.3,20.1 519.0,34.4 535.9,23.1 550.2,16.4 562.6,34.4 573.5,230.5 583.3,230.5" fill="none" stroke="#0000ff" stroke-width="1.2" stroke-linejoin="round" marker-start="url(#bo2)" marker-mid="url(#bo2)" marker-end="url(#bo2)"/>
<polyline points="369.6,59.9 433.9,45.6 471.6,105.0 498.3,99.4 519.0,230.5 535.9,230.5 550.2,230.5 562.6,230.5 573.5,230.5 583.3,230.5" fill="none" stroke="#008000" stroke-width="1.2" stroke-linejoin="round" marker-start="url(#gp2)" marker-mid="url(#gp2)" marker-end="url(#gp2)"/>
<polyline points="369.6,102.2 433.9,141.4 471.6,183.7 498.3,230.5 519.0,230.5 535.9,230.5 550.2,230.5 562.6,230.5 573.5,230.5 583.3,230.5" fill="none" stroke="#ff0000" stroke-width="1.2" stroke-linejoin="round" marker-start="url(#rd2)" marker-mid="url(#rd2)" marker-end="url(#rd2)"/>
<polyline points="369.6,145.5 433.9,180.0 471.6,230.5 498.3,230.5 519.0,230.5 535.9,230.5 550.2,230.5 562.6,230.5 573.5,230.5 583.3,230.5" fill="none" stroke="#00bfbf" stroke-width="1.1" stroke-linejoin="round" stroke-dasharray="1.2,1.2"/>
<polyline points="369.6,172.5 433.9,230.5 471.6,230.5 498.3,230.5 519.0,230.5 535.9,230.5 550.2,230.5 562.6,230.5 573.5,230.5 583.3,230.5" fill="none" stroke="#bf00bf" stroke-width="1.2" stroke-linejoin="round" marker-start="url(#mx2)" marker-mid="url(#mx2)" marker-end="url(#mx2)"/>
<polyline points="369.6,190.5 433.9,230.5 471.6,230.5 498.3,230.5 519.0,230.5 535.9,230.5 550.2,230.5 562.6,230.5 573.5,230.5 583.3,230.5" fill="none" stroke="#bfbf00" stroke-width="1.2" stroke-linejoin="round" marker-start="url(#ys2)" marker-mid="url(#ys2)" marker-end="url(#ys2)"/>
<polyline points="27.8,298.3 49.8,298.4 62.7,299.0 71.9,299.0 78.9,299.0 84.7,299.0 89.6,299.0 93.9,299.1 97.6,299.1 101.0,298.7 104.0,299.7 106.8,299.0 109.3,299.5 111.7,299.1 113.9,299.2 115.9,298.7 117.8,299.3 119.6,299.5 121.4,299.1 123.0,299.4 124.5,299.3 126.0,298.6 127.4,299.4 128.8,299.2 130.1,298.9 131.3,298.5 132.5,299.6 133.7,299.1 134.8,299.4 135.9,299.6 136.9,299.4 137.9,299.6 138.9,299.0 139.9,299.5 140.8,299.1 141.7,299.6 142.5,299.6 143.4,298.6 144.2,298.7 145.0,298.8 145.8,299.7 146.6,299.1 147.3,299.3 148.1,298.9 148.8,299.1 149.5,299.0 150.1,299.0 150.8,299.2 151.5,299.2 152.1,299.6 152.7,299.4 153.4,299.7 154.0,299.6 154.6,299.7 155.1,299.4 155.7,298.7 156.3,299.6 156.8,299.7 157.4,299.6 157.9,299.2 158.4,299.4 158.9,298.8 159.5,299.6 160.0,299.2 160.9,298.6 161.4,299.6 162.3,298.7 162.8,299.5 163.7,298.7 164.6,299.5 165.4,298.6 165.8,299.3 166.2,298.6 166.6,299.4 167.4,299.6 168.2,299.2 168.6,299.8 169.0,298.9 169.7,299.3 170.1,298.6 170.8,299.1 171.5,298.8 172.2,299.6 172.5,299.0 172.8,299.7 173.5,299.0 174.1,299.2 174.8,299.3 175.4,299.3 176.0,299.2 176.6,299.4 176.9,298.9 177.5,299.8 177.7,299.2 178.3,298.6 178.9,299.3 179.1,298.6 179.4,299.3 179.9,298.7 180.2,299.3 180.7,299.4 181.2,299.4 181.7,298.6 182.2,299.4 182.7,298.9 183.4,299.0 184.1,299.0 184.8,299.0 185.5,299.3 186.2,298.9 186.4,299.6 186.6,298.9 187.2,299.4 187.4,298.7 188.1,299.6 188.7,298.8 189.1,299.4 189.7,298.9 190.2,298.8 190.4,299.6 190.8,298.8 191.2,299.6 191.7,299.0 192.3,299.6 192.5,298.9 193.0,299.1 193.3,299.7 193.5,298.8 193.9,299.7 194.4,299.1 194.5,299.8 194.9,298.9 195.0,299.5 195.7,299.0 196.3,299.3 196.8,298.7 197.0,299.7 197.6,299.7 197.9,298.6 198.0,299.5 198.2,298.8 198.5,299.4 199.1,299.4 199.6,299.2 200.2,299.3 200.7,299.7 201.2,298.6 201.3,299.4 201.6,298.7 202.0,299.3 202.5,298.6 203.0,298.7 203.1,299.8 203.4,298.7 203.9,299.0 204.5,299.0 205.1,298.7 205.5,299.4 206.1,299.1 206.6,299.5 206.9,298.9 207.1,299.5 207.2,298.7 207.5,299.7 207.8,299.1 207.9,299.7 208.1,298.9 208.4,299.6 208.9,299.5 209.2,298.8 209.3,299.3 209.4,298.6 209.6,299.6 209.7,298.7 210.0,299.7 210.1,298.9 210.3,299.6 210.4,298.8 210.5,299.7 211.0,299.6 211.1,298.7 211.2,299.6 211.5,298.8 211.6,299.5 211.8,298.7 212.0,299.3 212.6,299.5 213.1,298.7 213.2,299.2 213.3,299.8 213.4,299.1 213.9,299.3 214.4,298.8 214.5,299.5 214.9,298.9 215.5,299.5 216.0,299.3 216.2,298.7 216.3,299.2 216.8,298.8 216.9,299.8 217.0,299.2 217.6,299.5 218.0,298.9 218.2,299.5 218.5,298.9 218.8,299.5 219.1,299.0 219.1,299.7 219.2,299.0 219.6,299.7 219.7,299.0 220.2,299.2 220.4,299.8 220.5,299.1 220.9,299.7 221.1,298.8 221.1,299.8 221.2,299.1 221.7,299.6 221.7,299.0 221.8,299.6 222.1,298.8 222.3,299.5 222.5,298.9 222.6,299.4 222.7,298.9 222.8,299.7 222.9,298.8 223.0,299.8 223.0,298.8 223.2,299.5 223.6,298.9 223.7,299.5 224.1,299.0 224.2,299.7 224.3,298.7 224.3,299.3 224.8,299.1 224.9,299.7 225.0,298.8 225.2,299.6 225.3,298.9 225.5,299.6 225.8,298.8 226.0,299.3 226.3,298.7 226.3,299.6 226.5,299.1 226.8,299.8 226.9,299.0 227.0,299.7 227.2,298.7 227.3,299.6 227.6,298.9 227.8,299.4 228.1,298.8 228.1,299.6 228.3,298.7 228.5,299.3 229.0,299.5 229.5,298.8 229.8,299.5 230.3,298.9 230.3,299.7 230.4,299.1 230.8,299.6 230.9,298.8 231.4,299.3 231.4,298.7 231.7,299.5 231.7,298.7 231.9,299.8 232.0,298.9 232.4,299.5 232.4,299.0 232.5,299.6 232.6,299.0 232.8,299.7 232.9,299.1 233.0,299.8 233.1,298.7 233.4,299.5 233.5,298.9 233.6,299.8 233.6,299.2 233.7,299.8 233.8,298.7 233.9,299.4 234.0,298.8 234.1,299.7 234.2,298.8 234.3,299.5 234.4,298.9 234.4,299.6 234.8,299.0 234.8,299.6 234.9,299.0 235.0,299.5 235.2,298.9 235.3,299.5 235.3,298.7 235.4,299.2 235.8,299.8 235.9,299.1 236.1,299.8 236.2,298.8 236.2,299.4 236.2,298.8 236.3,299.5 236.4,298.7 236.5,299.5 236.6,298.7 236.7,299.8 236.7,298.9 236.9,299.6 237.0,298.9 237.2,299.7 237.2,298.8 237.3,299.8 237.4,298.9 237.4,299.8 237.4,298.8 237.6,299.7 237.8,299.1 238.0,299.7 238.1,298.9 238.2,299.6 238.3,298.8 238.4,299.3 238.7,299.9 238.8,299.1 239.0,299.8 239.3,299.2 239.3,299.8 239.4,299.3 239.5,299.9 239.6,299.0 239.7,299.8 239.7,298.9 239.8,299.6 239.8,299.0 240.0,299.6 240.0,299.0 240.1,299.6 240.2,299.0 240.5,299.6 240.7,298.9 240.9,299.7 241.0,299.0 241.0,299.8 241.1,299.0 241.2,299.7 241.2,298.7 241.3,299.3 241.4,298.7 241.5,299.6 241.7,298.7 241.9,299.3 242.0,298.8 242.1,299.7 242.1,299.0 242.3,299.8 242.4,299.0 242.5,299.6 242.7,299.0 242.8,299.8 242.9,299.3 243.0,299.8 243.1,299.2 243.2,299.9 243.3,299.3 243.8,299.4 243.8,298.7 243.9,299.4 244.1,298.8 244.1,299.5 244.3,298.9 244.3,299.8 244.4,298.9 244.5,299.7 244.5,299.1 244.6,299.8 244.6,299.1 244.8,299.9 244.8,298.8 245.0,299.3 245.1,298.7 245.2,299.8 245.2,298.8 245.4,299.3 245.4,298.8 245.5,299.8 245.5,298.9 245.5,299.8 245.6,298.9 245.6,299.9 245.7,298.9 245.8,299.6 245.8,298.9 245.9,299.7 245.9,298.8 246.0,299.8 246.0,299.3 246.1,298.8 246.1,299.9 246.2,299.0 246.3,299.8 246.4,298.8 246.4,299.8 246.5,299.0 246.6,299.8 246.6,299.3 246.7,298.7 246.8,299.6 247.1,298.9 247.1,299.8 247.2,298.9 247.2,299.9 247.3,298.9 247.3,299.0" fill="none" stroke="#0000ff" stroke-width="1.0" stroke-linejoin="round" marker-start="url(#bo3)" marker-mid="url(#bo3)" marker-end="url(#bo3)"/>
<polyline points="27.8,299.3 49.8,299.5 62.7,299.4 71.9,299.4 78.9,299.4 84.7,299.4 89.6,299.4 93.9,299.4 97.6,299.4 101.0,299.1 104.0,299.5 106.8,299.2 109.3,299.1 111.7,299.0 113.9,299.1 115.9,300.0 117.8,299.9 119.6,299.8 121.4,299.8 123.0,299.1 124.5,299.2 126.0,299.6 127.4,299.7 128.8,299.9 130.1,299.9 131.3,299.0 132.5,299.6 133.7,299.7 134.8,299.5 135.9,299.1 136.9,299.4 137.9,299.0 138.9,300.0 139.9,299.9 140.8,299.5 141.7,299.2 142.5,300.0 143.4,299.6 144.2,299.9 145.0,299.9 145.8,299.5 146.6,299.4 147.3,299.6 148.1,299.4 148.8,299.1 149.5,299.3 150.1,299.9 150.8,298.9 151.5,299.0 152.1,299.6 152.7,299.2 153.4,299.5 154.0,299.5 154.6,299.3 155.1,300.1 155.7,299.1 156.3,299.4 156.8,299.1 157.4,299.7 157.9,299.2 158.4,299.3 158.9,299.8 159.5,299.3 160.0,299.6 160.9,299.0 161.9,299.2 162.3,299.8 163.3,299.2 164.1,299.1 165.0,299.0 165.4,299.7 166.2,300.1 167.0,300.1 167.4,298.9 168.2,300.1 169.0,299.4 169.3,300.0 170.1,299.9 170.4,299.3 171.1,299.4 171.8,299.4 172.2,300.1 172.5,299.3 173.2,299.0 173.8,299.9 174.1,299.4 174.8,299.0 175.1,300.1 175.4,299.4 176.0,299.0 176.6,299.1 176.9,299.7 177.2,299.1 177.7,299.5 178.3,300.1 178.6,299.1 179.1,299.9 179.7,300.1 179.9,299.5 180.5,299.4 181.0,299.4 181.5,300.0 182.0,299.5 182.2,299.0 183.0,299.2 183.4,300.0 183.7,299.1 184.1,300.0 184.8,299.4 185.1,300.0 185.7,299.8 186.2,299.0 186.6,300.0 187.2,299.3 187.7,299.9 188.3,299.6 188.9,299.3 189.1,300.0 189.5,299.0 189.7,300.1 190.2,299.0 190.4,300.0 190.6,299.1 190.8,300.1 191.2,299.0 191.6,299.7 192.1,300.1 192.3,299.2 192.6,300.0 192.8,299.0 193.0,300.0 193.2,299.1 193.3,299.9 193.9,299.6 194.4,299.7 194.9,299.9 195.4,299.0 195.7,299.7 196.3,299.1 196.6,299.9 197.0,299.0 197.1,299.9 197.4,299.0 197.6,299.6 198.2,299.2 198.5,300.1 198.6,299.1 198.9,299.7 199.5,300.0 199.8,299.0 199.9,300.0 200.1,299.2 200.3,300.0 200.7,299.1 200.9,300.0 201.0,299.2 201.6,299.6 202.0,299.0 202.2,299.6 202.7,299.0 203.0,300.0 203.1,299.4 203.4,300.1 203.9,299.3 204.0,300.0 204.1,299.5 204.3,300.0 204.4,299.3 204.5,300.0 204.9,299.5 205.5,299.1 205.8,299.9 205.9,299.2 206.1,300.0 206.2,299.4 206.7,299.4 206.9,300.1 207.0,299.2 207.1,299.7 207.4,299.0 207.6,300.1 208.2,299.1 208.3,299.7 208.8,300.1 208.9,299.1 209.1,299.7 209.6,299.3 209.7,300.1 209.8,299.4 210.0,300.0 210.2,299.3 210.6,300.2 210.8,299.4 211.0,299.9 211.1,299.3 211.7,299.7 212.1,299.1 212.3,300.1 212.7,299.3 213.0,300.1 213.3,299.1 213.6,300.1 213.7,299.2 213.8,299.9 214.1,299.3 214.7,299.1 214.8,300.2 214.9,299.3 215.0,300.0 215.5,299.8 216.1,299.1 216.1,300.0 216.3,299.0 216.5,300.0 216.6,299.3 216.7,299.8 217.1,299.0 217.2,300.0 217.3,299.0 217.4,300.1 217.5,299.1 217.6,300.0 217.8,299.2 218.0,299.8 218.1,299.2 218.2,300.0 218.6,299.4 218.7,300.0 218.9,299.1 219.0,299.7 219.4,299.0 219.5,299.7 220.0,299.4 220.1,300.0 220.6,299.6 220.7,300.2 220.8,299.4 221.3,299.2 221.4,299.9 221.7,299.1 221.7,300.1 221.9,299.6 221.9,299.0 222.0,300.0 222.2,299.0 222.3,299.9 222.4,299.0 222.4,299.5 223.0,299.7 223.0,299.0 223.2,300.1 223.4,299.3 223.5,299.9 223.7,299.2 223.9,300.0 224.0,299.3 224.1,299.9 224.3,299.4 224.8,300.1 224.8,299.1 224.9,299.9 225.0,299.1 225.0,300.2 225.1,299.2 225.3,300.1 225.5,299.6 225.7,300.2 225.8,299.2 225.9,300.0 226.0,299.1 226.0,300.1 226.1,299.3 226.3,300.1 226.3,299.1 226.4,300.0 226.5,299.2 226.5,299.8 226.6,299.0 226.7,299.9 226.7,299.2 227.0,300.2 227.1,299.4 227.2,300.2 227.3,299.2 227.4,300.1 227.6,299.0 227.7,300.1 227.9,299.1 228.1,299.6 228.5,299.0 228.7,299.7 229.2,300.2 229.3,299.2 229.4,300.0 229.7,299.0 229.8,299.8 229.9,299.1 230.3,299.9 230.4,299.1 230.5,299.7 231.1,299.0 231.2,299.9 231.2,299.1 231.6,299.7 231.6,299.2 231.7,299.8 231.9,299.3 232.2,300.0 232.2,299.2 232.4,300.0 232.5,299.2 232.6,299.8 232.7,299.0 232.7,300.0 232.8,299.1 232.9,300.1 233.1,299.3 233.2,300.0 233.3,299.2 233.4,299.8 233.7,299.0 233.7,299.6 233.9,299.1 234.1,300.1 234.1,299.3 234.2,300.0 234.3,299.2 234.3,300.1 234.5,299.0 234.6,299.6 234.7,299.1 234.8,299.8 235.1,299.1 235.2,299.9 235.3,299.4 235.6,300.1 235.7,299.2 235.7,299.9 235.8,299.4 235.9,299.9 236.1,299.3 236.5,300.1 236.6,299.5 237.2,300.0 237.3,299.4 237.3,300.0 237.4,299.2 237.4,300.2 237.5,299.0 237.6,300.0 237.6,299.0 237.7,299.8 237.7,299.3 237.8,300.1 237.9,299.5 238.3,300.2 238.3,299.5 238.5,300.2 238.5,299.4 238.8,300.1 238.9,299.5 239.4,300.0 239.4,299.4 239.5,300.1 239.5,299.5 239.6,300.1 239.6,299.1 239.7,300.1 239.9,299.5 239.9,300.0 240.1,299.3 240.2,300.0 240.3,299.3 240.5,300.0 240.5,299.4 240.6,300.0 240.7,299.1 240.7,300.0 240.7,299.0 240.8,299.8 240.9,299.3 241.1,299.9 241.6,299.9 241.7,299.3 241.9,300.1 242.0,299.4 242.1,300.0 242.1,299.2 242.2,300.0 242.3,299.3 242.4,299.9 242.5,299.3 242.6,300.0 242.6,299.1 242.6,299.7 242.7,299.2 242.8,299.9 242.8,299.3 243.0,299.8 243.2,299.1 243.3,300.0 243.3,299.4 243.4,300.0 243.4,299.5 243.6,300.0 243.9,299.5 244.0,300.1 244.0,299.1 244.1,300.0 244.2,299.4 244.5,300.1 244.6,299.3 244.6,300.1 244.7,299.2 244.7,299.9 245.0,299.2 245.0,300.1 245.1,299.1 245.2,299.6 245.5,299.0 245.6,299.7 245.6,299.2 245.7,300.1 245.7,299.4 245.8,300.2 245.9,299.2 245.9,299.9 246.0,299.4 246.3,300.0 246.4,299.4 246.4,300.1 246.5,299.6 246.7,300.1 246.9,299.1 246.9,299.7 247.3,299.6" fill="none" stroke="#008000" stroke-width="1.0" stroke-linejoin="round" marker-start="url(#go3)" marker-mid="url(#go3)" marker-end="url(#go3)"/>
<polyline points="27.8,301.7 49.8,302.0 62.7,299.5 71.9,299.5 78.9,299.5 84.7,299.5 89.6,299.5 93.9,299.5 97.6,299.5 101.0,299.8 104.0,299.3 106.8,299.8 109.3,299.7 111.7,299.4 113.9,299.5 115.9,299.7 117.8,299.2 119.6,299.6 121.4,299.8 123.0,299.3 124.5,299.8 126.0,299.7 127.4,299.8 128.8,299.3 130.1,299.1 131.3,299.8 132.5,299.8 133.7,299.4 134.8,299.1 135.9,299.2 136.9,299.6 137.9,299.3 138.9,300.0 139.9,299.6 140.8,299.2 141.7,299.7 142.5,299.4 143.4,299.9 144.2,299.9 145.0,299.5 145.8,299.6 146.6,299.7 147.3,299.8 148.1,300.0 148.8,299.0 149.5,299.4 150.1,299.6 150.8,299.3 151.5,299.6 152.1,299.1 152.7,299.9 153.4,299.5 154.0,299.1 154.6,299.7 155.1,299.3 155.7,299.2 156.3,299.5 156.8,299.1 157.4,299.2 157.9,299.9 158.4,299.7 158.9,299.0 159.5,299.8 160.0,299.0 160.9,299.9 161.9,299.3 162.8,299.4 163.7,300.0 164.1,299.1 165.0,299.7 165.8,300.0 166.2,299.2 166.6,300.0 167.4,299.7 168.2,299.4 169.0,299.8 169.7,299.5 170.4,299.4 171.1,299.7 171.8,299.5 172.5,299.2 173.2,299.1 173.8,299.4 174.5,299.5 175.1,299.3 175.7,299.9 176.3,299.3 176.9,299.5 177.5,299.4 178.0,299.8 178.6,299.7 179.1,299.9 179.4,299.4 179.9,299.3 180.5,299.5 181.0,299.9 181.2,299.3 181.7,299.4 182.5,299.8 182.7,299.1 183.0,299.7 183.7,299.9 183.9,299.1 184.4,299.9 184.8,299.4 185.5,299.5 186.2,299.4 186.8,299.6 187.4,299.1 187.9,299.6 188.5,299.6 188.9,299.1 189.1,299.8 189.3,299.1 189.5,299.6 190.1,299.9 190.6,299.8 190.8,299.1 191.0,299.9 191.4,299.4 191.9,299.3 192.5,299.8 192.8,299.3 193.0,299.9 193.2,299.1 193.3,299.9 193.5,299.3 193.7,300.0 193.9,299.4 194.4,299.1 194.5,299.8 195.0,299.0 195.7,300.0 196.3,299.3 197.0,299.5 197.6,299.1 198.2,299.2 198.8,299.4 199.3,299.9 199.6,299.2 200.2,299.8 200.5,299.2 201.0,299.4 201.2,300.0 201.7,299.6 202.2,300.0 202.4,299.2 202.9,299.0 203.0,299.8 203.1,299.1 203.3,299.7 203.4,299.1 203.9,299.8 204.0,299.2 204.3,299.9 204.4,299.3 204.7,299.9 204.9,299.2 205.3,300.0 205.5,299.1 205.6,299.9 206.2,299.3 206.5,299.9 206.9,299.2 207.2,299.8 207.8,299.8 207.9,299.1 208.0,299.6 208.1,299.0 208.4,299.9 208.5,299.0 208.6,299.9 209.1,299.1 209.6,299.8 209.7,299.1 209.8,299.6 210.3,300.0 210.4,299.4 210.9,299.3 211.1,299.9 211.2,299.2 211.4,299.8 211.9,299.1 212.2,299.9 212.7,299.9 212.8,299.2 212.9,299.9 213.2,299.3 213.6,299.9 213.8,299.0 214.0,299.6 214.3,299.1 214.6,299.9 215.1,299.5 215.3,300.0 215.8,299.1 216.1,299.6 216.6,299.8 216.6,299.1 216.7,300.0 216.9,299.1 217.1,299.7 217.3,299.2 217.6,299.9 217.8,299.1 217.9,299.6 218.4,299.9 218.5,299.3 218.7,299.9 218.7,299.0 218.8,300.0 218.9,299.5 219.4,299.8 219.7,299.1 219.7,299.7 220.0,299.0 220.0,299.5 220.3,299.0 220.4,300.0 220.6,299.5 221.0,300.0 221.1,299.4 221.7,300.0 221.8,299.0 221.9,299.7 222.1,299.0 222.1,299.9 222.4,299.2 222.8,299.7 223.0,299.2 223.1,299.7 223.2,299.1 223.3,299.9 223.4,299.4 223.6,299.9 223.7,299.2 224.2,299.6 224.7,299.3 224.8,300.0 224.9,299.3 225.1,300.0 225.3,299.2 225.5,299.7 225.7,299.1 226.2,299.4 226.7,299.9 226.8,299.2 227.0,299.9 227.1,299.2 227.1,299.8 227.4,299.1 227.4,299.8 227.5,299.1 228.0,299.0 228.3,299.7 228.5,299.2 229.1,299.6 229.6,299.6 230.1,299.9 230.3,299.3 230.5,299.9 230.5,299.2 230.7,299.7 230.9,299.0 231.0,299.9 231.4,299.4 231.5,299.9 231.6,299.1 231.7,299.6 232.2,299.3 232.2,299.8 232.5,299.2 232.5,299.8 232.6,299.0 232.7,299.8 232.7,299.0 232.9,299.6 233.2,299.1 233.4,300.0 233.4,299.4 234.0,299.2 234.0,300.0 234.3,299.0 234.3,299.9 234.4,299.1 234.5,299.7 234.7,299.1 234.9,299.7 235.1,299.0 235.1,299.5 235.3,299.0 235.6,299.6 236.1,299.7 236.2,299.0 236.5,299.8 236.8,299.2 236.9,300.0 237.1,299.0 237.2,299.5 237.3,299.0 237.4,300.0 237.5,299.0 237.7,300.0 237.8,299.3 237.9,299.8 237.9,299.1 238.0,299.6 238.0,299.1 238.0,299.6 238.4,299.1 238.4,300.0 238.5,299.0 238.6,299.9 238.8,299.1 238.9,299.7 239.3,299.1 239.4,299.8 239.5,299.1 239.5,299.8 239.5,299.0 239.7,299.9 239.8,299.3 240.1,299.9 240.1,299.1 240.1,299.9 240.2,299.4 240.7,299.8 240.7,299.0 240.8,299.6 240.8,299.0 240.9,299.9 241.1,299.2 241.3,300.0 241.4,299.2 241.5,299.9 241.5,299.2 241.5,299.9 241.7,299.1 241.7,299.8 241.8,299.0 241.9,299.6 242.4,299.2 242.5,299.9 242.5,299.3 242.6,299.8 242.8,299.1 242.8,299.9 242.8,299.2 243.1,300.0 243.1,299.3 243.1,299.9 243.2,299.2 243.4,299.8 243.5,299.1 243.6,299.7 243.8,299.1 243.9,299.6 244.2,299.0 244.3,300.0 244.3,299.3 244.5,299.8 244.6,299.1 244.6,299.7 244.6,299.2 244.8,299.7 244.8,299.2 244.8,299.8 245.0,299.2 245.2,299.8 245.3,299.1 245.4,299.7 245.6,299.2 245.6,300.0 245.7,299.2 245.8,299.9 245.9,299.4 246.1,300.0 246.1,299.4 246.5,300.0 246.5,299.2 246.6,299.9 246.8,299.0 246.8,299.8 246.8,299.1 246.9,299.9 246.9,299.0 247.0,299.6 247.1,299.0 247.2,300.0 247.2,299.0 247.3,299.1" fill="none" stroke="#ff0000" stroke-width="1.0" stroke-linejoin="round" marker-start="url(#ro3)" marker-mid="url(#ro3)" marker-end="url(#ro3)"/>
<polyline points="27.8,304.5 49.8,304.5 62.7,300.3 71.9,300.3 78.9,300.3 84.7,300.3 89.6,300.3 93.9,300.3 97.6,300.3 101.0,300.4 104.0,300.6 106.8,300.0 109.3,300.3 111.7,300.1 113.9,300.3 115.9,300.4 117.8,299.9 119.6,300.1 121.4,300.1 123.0,300.6 124.5,300.5 126.0,300.0 127.4,300.5 128.8,300.0 130.1,300.4 131.3,300.0 132.5,299.9 133.7,300.6 134.8,300.1 135.9,300.1 136.9,300.7 137.9,300.6 138.9,300.1 139.9,300.7 140.8,300.3 141.7,300.4 142.5,300.1 143.4,300.7 144.2,300.5 145.0,300.7 145.8,300.6 146.6,300.1 147.3,300.2 148.1,300.0 148.8,300.0 149.5,300.0 150.1,300.1 150.8,300.4 151.5,299.9 152.1,300.4 152.7,300.2 153.4,300.1 154.0,300.6 154.6,300.3 155.1,300.2 155.7,300.3 156.3,300.5 156.8,299.9 157.4,300.7 157.9,299.9 158.4,300.5 158.9,300.6 159.5,299.9 160.0,300.5 160.9,300.4 161.9,299.9 162.8,300.7 163.3,300.1 164.1,300.6 165.0,300.2 165.8,300.3 166.6,300.0 167.0,300.5 167.8,300.6 168.2,299.9 168.6,300.7 169.0,300.0 169.7,300.4 170.4,300.2 171.1,300.3 171.8,300.2 172.5,300.0 173.2,300.5 173.8,300.0 174.5,300.7 175.1,300.2 175.7,300.4 176.3,300.3 176.9,299.9 177.2,300.6 177.5,299.9 178.0,300.6 178.3,300.0 178.9,300.7 179.4,300.5 179.7,300.0 180.2,300.0 180.5,300.6 181.0,300.3 181.5,300.6 182.0,300.3 182.7,300.3 183.4,300.0 183.9,300.7 184.6,300.3 185.3,300.1 185.9,300.2 186.6,300.5 187.2,300.2 187.9,300.3 188.5,300.1 188.7,300.7 189.3,299.9 189.9,300.4 190.4,300.4 191.0,300.4 191.6,300.2 192.1,300.5 192.6,300.3 193.2,300.6 193.7,300.5 194.2,300.0 194.7,300.4 195.4,300.4 196.0,300.3 196.6,300.4 197.3,299.9 197.9,300.1 198.5,300.4 199.1,299.9 199.6,300.0 199.8,300.6 200.1,299.9 200.6,300.2 201.2,300.2 201.7,300.0 202.1,300.7 202.6,300.6 202.7,299.9 203.3,300.0 203.5,300.6 203.9,300.1 204.1,300.7 204.7,300.1 204.9,300.7 205.2,300.2 205.3,300.7 205.6,300.1 206.2,300.1 206.7,300.1 206.9,300.6 207.1,300.1 207.4,300.7 207.5,300.1 208.1,300.5 208.2,300.0 208.3,300.5 208.8,300.3 209.4,299.9 209.7,300.6 210.0,299.9 210.1,300.5 210.6,300.3 211.1,300.1 211.3,300.6 211.4,300.0 211.5,300.6 212.1,300.0 212.7,300.4 213.2,300.4 213.3,299.9 213.4,300.5 213.8,299.9 213.9,300.6 214.3,300.0 214.5,300.6 214.6,300.0 215.1,300.0 215.5,300.5 216.1,300.3 216.6,300.4 217.1,300.1 217.7,300.0 218.3,300.4 218.8,300.5 218.9,299.9 219.1,300.7 219.2,300.1 219.4,300.7 219.6,300.0 220.1,300.2 220.6,300.3 221.1,300.1 221.3,300.6 221.5,299.9 221.7,300.6 221.9,300.0 222.3,300.6 222.4,300.0 222.9,300.6 223.4,300.0 223.9,300.1 224.1,300.7 224.3,300.1 224.8,300.7 225.0,299.9 225.2,300.5 225.3,299.9 225.4,300.7 225.5,300.2 226.0,299.9 226.5,300.7 226.6,300.0 227.1,300.6 227.3,300.1 227.7,300.6 228.0,300.1 228.5,300.1 229.0,300.1 229.5,300.5 230.1,300.2 230.6,299.9 230.8,300.6 231.0,300.1 231.5,300.0 231.7,300.7 231.8,300.0 231.9,300.6 232.3,300.0 232.4,300.6 232.5,299.9 232.5,300.7 232.6,299.9 232.7,300.6 232.8,300.1 233.3,300.7 233.5,300.0 233.6,300.6 233.7,299.9 233.8,300.5 234.3,299.9 234.8,300.5 235.3,300.4 235.8,300.1 236.0,300.7 236.3,300.1 236.4,300.6 236.4,300.1 236.5,300.7 236.6,299.9 236.7,300.4 237.3,300.1 237.8,300.5 238.2,299.9 238.5,300.5 238.6,299.9 238.7,300.6 239.1,300.0 239.4,300.5 239.8,300.0 240.1,300.5 240.1,300.0 240.5,300.7 240.5,300.0 240.6,300.5 240.7,300.0 240.8,300.6 240.9,300.1 241.4,300.0 241.6,300.7 241.7,300.0 241.8,300.5 241.8,299.9 241.9,300.5 242.0,299.9 242.2,300.7 242.3,300.0 242.4,300.7 242.5,299.9 242.6,300.5 242.8,299.9 242.9,300.5 243.4,300.1 243.8,300.6 243.9,300.1 243.9,300.6 244.0,300.0 244.1,300.6 244.2,299.9 244.3,300.5 244.6,300.0 244.8,300.7 244.8,300.1 245.3,300.3 245.8,300.1 245.9,300.6 245.9,300.0 246.0,300.5 246.4,299.9 246.6,300.7 246.6,300.1 247.0,300.6 247.1,300.0 247.3,300.6 247.3,300.3" fill="none" stroke="#00bfbf" stroke-width="1.2" stroke-linejoin="round" stroke-dasharray="1.3,1.3"/>
<polyline points="27.8,307.6 49.8,306.8 62.7,301.8 71.9,301.8 78.9,301.9 84.7,301.9 89.6,302.0 93.9,302.0 97.6,302.1 101.0,302.0 104.0,301.4 106.8,301.5 109.3,302.0 111.7,302.7 113.9,301.6 115.9,301.8 117.8,302.4 119.6,303.0 121.4,302.4 123.0,302.1 124.5,303.1 126.0,301.6 127.4,302.9 128.8,302.0 130.1,301.8 131.3,301.8 132.5,302.1 133.7,302.9 134.8,301.9 135.9,302.5 136.9,302.6 137.9,302.2 138.9,302.5 139.9,301.7 140.8,301.7 141.7,302.0 142.5,302.8 143.4,302.4 144.2,302.2 145.0,302.6 145.8,302.4 146.6,302.2 147.3,303.0 148.1,302.8 148.8,302.1 149.5,302.6 150.1,302.6 150.8,303.1 151.5,302.9 152.1,302.2 152.7,303.3 153.4,302.0 154.0,302.4 154.6,303.0 155.1,302.0 155.7,302.6 156.3,301.9 156.8,302.9 157.4,303.0 157.9,302.7 158.4,303.2 158.9,302.3 159.5,302.9 160.0,302.8 160.9,302.6 161.4,303.2 162.3,302.6 163.3,301.9 163.7,303.0 164.6,303.5 165.4,302.3 166.2,302.9 166.6,301.9 167.0,302.6 167.8,302.1 168.6,303.1 169.0,302.1 169.7,302.5 170.1,303.3 170.4,302.0 170.8,302.6 171.5,303.3 172.2,303.3 172.5,302.4 173.2,302.5 173.5,303.4 174.1,302.2 174.8,302.3 175.4,302.7 176.0,302.4 176.6,302.6 177.2,302.9 177.5,303.5 178.0,302.8 178.6,303.1 178.9,302.1 179.1,303.4 179.7,303.4 180.2,302.6 180.7,302.2 181.0,303.1 181.2,302.1 181.7,302.4 182.5,302.2 183.2,302.3 183.9,303.6 184.4,302.4 185.1,302.8 185.5,303.6 185.9,303.0 186.4,302.4 187.0,302.7 187.2,303.6 187.4,302.5 187.9,303.8 188.1,303.2 188.3,302.6 188.5,303.2 188.7,302.4 188.9,303.2 189.1,303.9 189.7,302.8 190.2,303.6 190.8,302.9 191.2,303.7 191.7,303.7 192.3,302.8 192.8,302.5 193.3,302.9 193.5,303.6 194.0,304.0 194.5,303.1 195.2,302.9 195.4,303.6 196.0,303.7 196.3,302.8 196.5,303.7 197.1,303.4 197.4,303.9 197.6,303.2 197.7,304.0 198.0,303.3 198.3,304.2 198.6,303.0 199.1,304.2 199.3,303.0 199.5,304.1 199.9,303.3 200.3,302.8 200.5,304.3 200.6,303.8 201.2,304.2 201.4,303.2 202.0,303.8 202.1,303.3 202.5,304.3 202.6,303.4 203.0,304.3 203.1,303.6 203.3,304.4 203.4,303.7 203.8,303.0 203.9,303.6 204.1,302.9 204.3,304.2 204.4,303.2 204.6,304.1 204.9,303.5 205.2,304.2 205.3,303.2 205.5,303.9 206.1,303.9 206.3,304.5 206.4,303.7 207.0,303.8 207.3,304.6 207.8,303.5 208.0,304.6 208.2,303.3 208.7,303.2 208.8,304.2 209.2,303.4 209.3,304.3 209.5,303.4 209.6,304.6 209.8,303.5 209.9,304.7 210.0,303.8 210.2,304.8 210.4,303.4 210.6,304.0 210.8,303.5 211.0,304.4 211.1,303.2 211.2,304.1 211.4,303.2 211.5,303.8 211.9,304.8 212.2,303.4 212.5,304.5 212.6,303.7 212.8,304.7 213.0,303.7 213.2,304.8 213.3,304.2 213.5,303.4 213.7,304.4 213.9,303.4 213.9,304.8 214.2,303.5 214.3,304.7 214.4,303.4 214.5,304.7 214.6,304.1 214.8,304.8 214.9,303.8 215.5,303.5 215.8,304.6 215.9,303.9 216.4,303.4 216.5,304.6 216.6,303.7 216.8,304.9 216.9,303.6 217.0,304.7 217.1,304.1 217.2,304.8 217.3,304.1 217.6,305.0 217.6,304.0 217.7,304.8 218.0,304.1 218.1,303.6 218.4,304.7 218.4,303.9 218.7,304.8 218.9,304.0 219.4,305.1 219.6,304.4 219.7,305.1 219.8,304.0 220.3,304.4 220.4,303.6 220.6,304.2 220.7,303.6 221.0,304.5 221.5,304.1 221.6,305.2 221.7,303.9 221.7,304.8 221.9,303.7 221.9,305.0 222.3,303.9 222.4,304.5 222.5,305.0 223.0,304.0 223.3,305.0 223.7,304.5 223.7,303.7 223.8,305.0 224.1,303.8 224.2,304.9 224.3,304.1 224.4,304.9 224.5,304.1 224.6,304.9 224.8,304.3 225.0,305.0 225.2,303.9 225.3,304.9 225.4,304.2 225.7,304.8 225.9,304.2 226.2,305.2 226.3,304.1 226.3,305.4 226.5,303.9 226.5,304.6 226.6,305.2 226.7,304.7 226.9,305.5 227.0,304.4 227.0,305.0 227.1,304.3 227.1,304.9 227.2,305.7 227.3,304.4 227.3,305.5 227.6,304.7 227.6,305.7 227.7,305.1 227.7,304.4 227.8,305.2 228.2,305.9 228.3,304.6 228.3,305.8 228.4,304.9 228.5,306.2 228.7,305.2 228.8,306.4 228.9,305.8 229.1,305.0 229.2,306.3 229.3,305.5 229.3,306.5 229.4,305.5 229.7,306.7 230.0,306.2 230.1,305.4 230.2,306.6 230.4,305.9 230.5,307.0 230.5,305.8 230.6,306.3 230.8,307.2 230.9,306.1 230.9,306.8 231.0,306.2 231.3,307.3 231.3,306.7 231.4,307.4 231.6,306.7 231.7,306.2 232.0,307.1 232.0,307.6 232.1,306.9 232.5,307.9 232.5,306.6 232.6,307.2 232.7,307.8 232.7,306.8 233.0,308.1 233.1,306.7 233.2,307.8 233.4,306.8 233.5,307.4 233.5,308.3 233.7,307.3 233.9,307.8 234.0,308.5 234.2,307.8 234.3,307.2 234.3,308.4 234.3,307.5 234.4,308.7 234.5,307.7 234.6,308.3 234.7,307.5 234.8,308.2 235.1,307.5 235.1,308.2 235.2,309.1 235.3,308.3 235.5,309.2 235.6,308.2 235.7,308.8 235.8,308.2 235.8,308.9 235.9,308.2 236.1,309.0 236.2,308.2 236.2,309.2 236.3,308.3 236.4,309.6 236.4,308.5 236.5,309.4 236.5,308.5 236.6,309.3 236.6,308.6 236.7,309.7 236.7,309.0 237.0,309.8 237.0,308.5 237.1,309.9 237.2,308.6 237.4,309.9 237.6,309.1 237.7,310.1 237.7,308.8 237.8,309.8 238.0,309.2 238.1,310.6 238.2,309.3 238.2,310.6 238.3,309.5 238.3,310.5 238.4,310.0 238.5,309.4 238.5,310.1 238.6,310.9 238.6,309.8 238.7,311.0 238.8,309.6 238.8,310.3 238.8,310.9 238.9,309.8 239.0,311.3 239.1,310.3 239.1,311.1 239.2,310.5 239.3,311.5 239.3,311.0 239.4,310.5 239.4,311.3 239.5,310.7 239.6,311.5 239.7,310.4 239.8,311.2 239.9,312.0 239.9,311.2 240.1,312.2 240.1,311.0 240.2,312.1 240.4,311.5 240.5,312.3 240.5,311.2 240.6,312.3 240.7,311.6 240.8,312.2 240.8,312.9 241.0,311.9 241.1,312.7 241.2,312.0 241.3,312.7 241.5,312.0 241.5,313.2 241.5,312.4 241.7,313.2 241.7,312.4 241.8,313.6 241.9,312.8 242.0,313.9 242.0,313.1 242.1,313.7 242.2,312.7 242.3,313.3 242.3,313.9 242.4,312.7 242.6,314.3 242.6,313.7 242.6,314.3 242.7,313.5 242.7,314.3 242.7,313.7 242.8,314.2 242.9,313.2 242.9,314.0 243.0,313.5 243.2,314.3 243.2,313.7 243.4,314.5 243.4,313.8 243.5,314.8 243.6,313.7 243.6,314.3 243.8,315.0 243.9,314.4 244.0,315.5 244.0,314.5 244.1,315.6 244.2,314.9 244.3,315.6 244.3,314.9 244.4,316.1 244.4,315.4 244.5,316.1 244.5,315.5 244.5,316.3 244.6,315.7 244.6,315.1 244.7,316.0 244.7,316.7 244.8,315.4 244.8,316.4 244.9,315.8 245.0,316.5 245.0,317.2 245.0,315.9 245.1,316.6 245.1,317.2 245.2,316.3 245.2,317.6 245.3,317.0 245.3,316.4 245.4,317.8 245.4,317.0 245.4,317.9 245.5,316.9 245.6,317.9 245.6,317.1 245.7,318.2 245.7,317.3 245.8,318.0 245.9,317.4 246.0,318.5 246.0,317.5 246.1,318.4 246.1,317.7 246.2,319.0 246.2,317.9 246.2,318.8 246.6,319.4 246.7,318.9 246.7,319.8 246.8,319.0 246.8,319.6 246.9,319.0 246.9,319.7 247.1,320.3 247.1,319.4 247.2,320.5 247.2,319.6 247.3,320.4 247.3,320.2" fill="none" stroke="#bf00bf" stroke-width="1.2" stroke-linejoin="round" marker-start="url(#mx3)" marker-mid="url(#mx3)" marker-end="url(#mx3)"/>
<polyline points="27.8,320.7 49.8,318.9 62.7,314.5 71.9,314.9 78.9,314.9 84.7,314.8 89.6,314.8 93.9,314.8 97.6,314.8 101.0,314.7 104.0,314.7 106.8,314.7 109.3,314.2 111.7,315.3 113.9,314.1 115.9,314.3 117.8,313.9 119.6,314.3 121.4,314.5 123.0,315.3 124.5,314.5 126.0,314.0 127.4,314.3 128.8,315.4 130.1,313.9 131.3,314.8 132.5,314.4 133.7,314.9 134.8,314.4 135.9,314.9 136.9,314.6 137.9,314.8 138.9,315.2 139.9,314.7 140.8,314.1 141.7,314.0 142.5,315.4 143.4,314.7 144.2,314.2 145.0,315.5 145.8,314.9 146.6,315.2 147.3,315.4 148.1,314.5 148.8,314.6 149.5,315.5 150.1,314.3 150.8,315.3 151.5,314.3 152.1,315.3 152.7,315.3 153.4,315.7 154.0,315.6 154.6,315.0 155.1,314.6 155.7,314.5 156.3,315.1 156.8,315.1 157.4,314.4 157.9,315.8 158.4,315.2 158.9,315.5 159.5,314.7 160.0,314.8 160.9,315.0 161.9,315.1 162.8,315.8 163.7,314.8 164.6,314.8 165.0,315.6 165.4,316.1 165.8,314.9 166.2,315.8 166.6,315.1 167.4,315.8 167.8,315.2 168.6,315.4 169.3,315.3 170.1,315.4 170.8,315.2 171.5,314.9 172.2,315.6 172.8,316.1 173.5,315.9 174.1,314.9 174.8,315.1 175.4,315.8 176.0,315.4 176.3,316.4 176.6,314.9 176.9,316.2 177.2,315.3 177.5,316.3 177.7,315.0 178.0,316.5 178.6,316.5 178.9,315.9 179.1,315.3 179.4,316.5 179.7,315.7 179.9,315.1 180.2,316.0 180.7,315.9 181.2,315.4 181.5,316.2 182.0,315.5 182.2,316.0 182.7,316.6 183.4,316.1 184.1,316.3 184.4,315.8 184.6,316.9 185.3,315.8 185.5,316.4 186.2,317.5 186.6,316.8 187.2,316.5 187.4,317.0 188.1,316.2 188.3,317.2 188.5,317.7 189.1,317.9 189.3,316.8 189.7,317.3 189.9,318.0 190.1,317.1 190.2,318.0 190.6,317.4 191.0,318.2 191.4,317.2 191.6,318.1 191.7,317.1 192.1,318.4 192.5,317.4 192.8,317.9 193.3,318.5 193.9,318.1 194.4,317.9 194.7,318.6 194.9,317.7 195.2,318.5 195.4,317.7 195.8,318.7 196.0,317.8 196.3,318.7 196.6,317.9 196.8,318.9 197.0,318.2 197.3,319.1 197.7,318.1 197.9,319.0 198.3,318.3 198.5,319.0 198.8,318.5 199.1,319.2 199.6,318.3 199.8,319.1 200.1,318.4 200.2,319.0 200.3,319.7 200.7,318.6 200.9,319.5 201.4,318.7 201.6,320.2 202.0,319.4 202.1,320.2 202.6,319.6 203.1,320.0 203.3,319.4 203.4,320.4 203.5,319.9 204.0,320.2 204.1,320.8 204.3,319.7 204.7,320.9 204.9,319.9 205.1,320.7 205.3,321.2 205.6,320.5 205.7,321.4 205.9,320.8 206.2,321.7 206.5,320.5 206.7,321.0 207.0,321.6 207.1,320.5 207.2,321.9 207.5,321.2 207.6,322.1 207.8,321.6 207.9,322.1 208.3,321.6 208.5,322.2 208.7,321.4 208.8,322.1 209.1,321.3 209.2,322.4 209.3,321.9 209.4,322.7 209.5,322.0 209.6,322.7 209.7,321.7 210.0,322.6 210.3,321.6 210.7,323.1 210.8,322.1 210.9,322.7 211.1,321.9 211.2,322.8 211.3,321.9 211.5,322.7 211.6,322.0 211.7,323.4 211.8,322.6 212.0,323.5 212.1,322.2 212.2,323.6 212.3,322.1 212.4,323.0 212.6,323.7 212.7,322.7 212.7,323.7 212.9,323.0 213.5,323.7 213.6,323.1 213.9,323.9 214.1,323.3 214.6,324.0 214.8,324.5 215.2,323.9 215.3,324.8 215.4,324.0 215.5,325.0 215.5,324.4 216.1,325.1 216.1,324.6 216.6,325.1 216.9,325.8 217.0,324.6 217.1,325.8 217.2,325.0 217.3,325.7 217.4,325.1 217.5,326.2 217.6,325.1 217.8,326.1 217.9,325.4 218.0,326.7 218.3,326.2 218.4,325.4 218.5,326.7 218.6,326.0 218.7,326.9 218.7,326.2 218.8,327.0 218.9,325.6 219.0,327.2 219.1,325.9 219.1,326.6 219.3,327.4 219.6,326.7 219.8,327.3 220.3,327.6 220.4,326.8 220.6,327.4 221.1,327.9 221.3,327.4 221.4,328.2 221.5,327.5 221.6,328.5 222.0,327.9 222.1,328.5 222.1,327.7 222.3,328.4 222.4,329.1 222.9,328.3 223.0,329.3 223.1,328.3 223.3,329.4 223.5,328.6 223.5,329.4 223.7,328.8 223.8,330.1 223.9,328.7 224.0,329.5 224.1,330.2 224.2,329.4 224.3,330.0 224.3,329.0 224.4,330.2 224.6,329.7 224.8,330.6 225.0,329.7 225.0,330.6 225.5,330.1 225.6,331.6 225.7,330.5 225.9,331.2 225.9,330.4 226.0,331.0 226.3,332.0 226.8,332.6 227.3,333.0 227.4,332.0 227.5,333.3 227.6,332.7 227.7,333.5 228.0,332.7 228.1,333.8 228.3,333.2 228.4,333.8 228.5,333.3 228.5,334.3 228.6,333.8 229.0,334.4 229.2,333.8 229.4,334.5 229.6,335.2 229.7,334.0 229.7,334.6 229.9,335.1 230.4,336.1 230.5,334.9 230.6,335.6 230.8,336.2 231.1,335.6 231.2,336.3 231.4,336.8 231.5,336.0 231.6,337.4 231.6,335.9 231.7,337.4 231.8,336.6 231.8,337.4 232.2,338.1 232.3,337.3 232.4,338.4 232.4,337.4 232.6,338.9 232.6,338.2 232.9,338.9 233.0,339.4 233.0,338.9 233.1,340.0 233.2,338.9 233.3,339.8 233.5,340.4 233.5,341.0 233.6,339.6 233.7,340.7 233.8,341.5 233.9,340.1 234.0,341.4 234.0,340.5 234.1,341.9 234.2,341.2 234.2,342.2 234.3,341.6 234.4,342.8 234.6,342.1 234.7,342.7 234.8,342.2 234.9,342.7 235.0,343.9 235.2,343.1 235.3,343.9 235.3,344.6 235.5,343.9 235.7,345.0 235.9,344.4 235.9,345.7 236.0,344.5 236.1,345.6 236.2,345.0 236.3,346.1 236.4,346.8 236.5,345.8 236.5,346.8 236.6,345.7 236.6,346.3 236.6,347.3 237.0,347.9 237.1,346.6 237.1,347.1 237.2,348.2 237.2,347.0 237.3,347.9 237.4,348.8 237.7,349.3 237.8,348.5 237.8,349.1 237.9,350.3 238.0,349.4 238.0,350.2 238.2,351.1 238.3,351.8 238.5,351.0 238.5,351.6 238.6,352.7 238.7,352.2 238.7,352.8 238.8,353.4 239.2,354.2 239.2,354.9 239.3,354.0 239.4,354.9 239.4,354.3 239.5,355.4 239.5,355.9 239.6,355.4 239.7,356.3 239.7,355.7 239.8,356.8 240.0,357.7 240.0,356.6 240.1,357.9 240.2,357.1 240.2,358.5 240.3,358.0 240.4,359.1 240.4,358.0 240.5,358.9 240.5,359.4 240.6,358.5 240.7,359.1 240.7,360.0 240.7,359.2 240.8,360.6 241.0,360.0 241.0,360.6 241.1,361.9 241.2,361.1 241.2,361.7 241.4,362.6 241.4,362.0 241.6,363.2 241.7,363.8 241.8,362.9 241.9,363.8 241.9,364.6 242.0,363.8 242.1,365.2 242.1,364.0 242.1,365.0 242.3,366.2 242.4,365.5 242.4,366.3 242.5,367.9 242.6,366.8 242.6,367.5 242.6,368.5 242.7,368.0 242.8,368.5 242.8,370.0 243.0,371.4 243.1,370.3 243.1,371.5 243.2,372.3 243.4,372.9 243.5,373.5 243.6,374.3 243.6,375.0 243.6,374.2 243.7,375.4 243.8,376.3 243.8,375.4 243.9,376.8 244.1,377.9 244.2,379.1 244.4,379.6 244.4,380.6 244.5,379.8 244.5,381.0 244.5,380.5 244.6,381.0 244.7,382.9 244.7,381.7 244.8,383.2 244.8,382.7 244.8,383.6 244.9,382.8 244.9,383.6 244.9,384.2 245.0,385.0 245.0,385.9 245.1,385.4 245.1,386.7 245.2,387.4 245.2,388.4 245.3,389.0 245.4,390.6 245.5,391.5 245.5,390.8 245.5,392.3 245.7,393.9 245.7,394.9 245.8,395.8 245.9,396.3 245.9,397.2 246.0,397.8 246.1,399.7 246.2,401.1 246.3,401.7 246.3,403.4 246.3,404.6 246.4,405.7 246.4,406.4 246.4,408.3 246.5,409.1 246.5,410.7 246.6,411.4 246.6,412.3 246.6,414.0 246.7,414.6 246.7,415.7 246.7,417.0 246.8,417.5 246.8,418.7 246.8,420.5 246.9,421.6 246.9,422.9 247.0,424.1 247.0,425.7 247.1,427.9 247.1,430.5 247.1,431.7 247.2,433.3 247.2,435.8 247.2,437.3 247.2,440.1 247.3,442.4 247.3,443.0 247.3,451.7 247.3,461.7 247.3,471.7 247.3,481.7 247.3,496.7" fill="none" stroke="#bfbf00" stroke-width="1.2" stroke-linejoin="round" marker-start="url(#yo3)" marker-mid="url(#yo3)" marker-end="url(#yo3)"/>
<polyline points="366.0,391.3 392.4,394.5 407.9,394.1 418.9,393.7 427.4,383.9 434.3,388.2 440.2,392.3 445.3,387.1 449.8,391.9 453.8,385.8 457.4,389.5 460.8,380.2 463.8,400.0 466.6,386.6 469.3,392.7 471.7,384.9 474.0,393.6 476.2,400.1 478.3,395.1 480.2,388.8 482.1,382.1 483.9,389.2 485.6,394.7 487.2,387.6 488.7,385.7 490.2,398.7 491.7,398.5 493.1,401.8 494.4,402.6 495.7,401.2 496.9,395.3 498.2,392.2 499.3,391.9 500.5,393.6 501.6,393.1 502.6,392.6 503.7,400.6 504.7,404.0 505.7,406.2 506.7,407.1 507.6,402.5 508.5,400.1 509.4,399.4 510.3,399.5 511.2,406.9 512.0,405.7 512.8,411.3 513.6,409.0 514.4,414.2 515.2,412.9 515.9,404.5 516.7,405.3 517.4,410.8 518.1,405.5 518.8,409.5 519.5,402.7 520.2,398.4 520.8,403.7 521.5,407.5 522.1,404.1 522.8,404.0 523.4,408.8 524.0,418.3 524.6,417.9 525.2,406.2 525.8,403.9 526.3,398.1 526.9,393.6 527.5,399.9 528.0,387.7 528.5,389.9 529.1,390.0 529.6,388.0 530.1,397.8 530.6,390.3 531.1,399.9 531.6,393.3 532.1,399.7 532.6,395.8 533.1,393.4 533.6,401.2 534.0,395.3 534.5,384.2 535.0,390.1 535.4,377.0 535.8,377.5 536.3,382.3 536.7,376.7 537.2,366.1 537.6,377.5 538.0,363.3 538.4,362.0 538.8,371.6 539.2,366.5 539.6,367.7 540.0,366.0 540.4,367.9 540.8,377.0 541.2,373.5 541.6,382.6 542.0,389.0 542.4,400.0 542.7,417.1 543.1,407.2 543.5,402.8 543.8,401.3 544.2,385.5 544.5,379.5 544.9,384.9 545.2,378.0 545.6,376.4 545.9,393.3 546.3,418.8 546.6,439.2 546.9,433.5 547.3,430.0 547.6,414.8 547.9,396.8 548.2,394.6 548.6,395.8 548.9,400.6 549.2,419.2 549.5,408.8 549.8,411.7 550.1,401.8 550.4,405.7 550.7,399.0 551.0,392.0 551.3,387.4 551.6,389.3 551.9,380.0 552.2,375.4 552.5,371.7 552.8,367.4 553.0,359.8 553.3,352.5 553.6,349.5 553.9,341.4 554.2,335.6 554.4,330.7 554.7,323.6 555.0,316.2 555.2,308.6 555.5,298.9 555.8,291.7 556.3,291.7 556.5,340.1 556.8,512.0 557.1,513.0 557.3,513.5 557.8,513.5 558.3,513.5 558.8,513.5 559.3,513.5 559.8,513.5 560.2,513.5 560.7,513.5 561.2,513.5 561.6,513.5 562.1,513.5 562.5,513.5 562.9,513.5 563.4,513.5 563.8,513.5 564.2,513.5 564.6,513.5 565.1,513.5 565.5,513.5 565.9,513.5 566.3,513.5 566.9,513.5 567.5,513.5 568.0,513.5 568.6,513.5 569.2,513.5 569.7,513.5 570.3,513.5 570.8,513.5 571.3,513.5 571.8,513.5 572.4,513.5 572.9,513.5 573.4,513.5 573.9,513.5 574.3,513.5 574.8,513.5 575.3,513.5 575.8,513.5 576.2,513.5 576.7,513.5 577.1,513.5 577.6,513.5 578.0,513.5 578.5,513.5 578.9,513.5 579.3,513.5 579.8,513.5 580.2,513.5 580.6,513.5 581.0,513.5 581.4,513.5 581.8,513.5 582.3,513.5 582.9,513.5 583.4,513.5 583.5,513.5" fill="none" stroke="#0000ff" stroke-width="1.2" stroke-linejoin="round" marker-start="url(#bo4)" marker-mid="url(#bo4)" marker-end="url(#bo4)"/>
<polyline points="366.0,398.8 392.4,404.9 407.9,404.9 418.9,407.7 427.4,401.5 434.3,401.5 440.2,406.2 445.3,401.9 449.8,403.0 453.8,392.6 457.4,399.7 460.8,394.1 463.8,410.5 466.6,397.3 469.3,396.6 471.7,401.7 474.0,404.7 476.2,414.6 478.3,410.1 480.2,408.6 482.1,404.6 483.9,411.7 485.6,417.1 487.2,411.8 488.7,410.0 490.2,412.4 491.7,411.7 493.1,410.9 494.4,415.9 495.7,416.7 496.9,411.0 498.2,409.8 499.3,405.8 500.5,404.7 501.6,405.0 502.6,401.8 503.7,404.2 504.7,401.6 505.7,402.6 506.7,406.5 507.6,406.0 508.5,407.7 509.4,410.2 510.3,411.4 511.2,412.7 512.0,412.6 512.8,417.8 513.6,420.9 514.4,423.3 515.2,424.0 515.9,427.7 516.7,439.9 517.4,453.5 518.1,465.1 518.8,468.5 519.5,463.6 520.2,462.3 520.8,461.2 521.5,463.0 522.1,463.8 522.8,463.7 523.4,470.7 524.0,465.2 524.6,462.3 525.2,457.1 525.8,455.2 526.3,453.8 526.9,454.8 527.5,449.8 528.0,450.4 528.5,442.2 529.1,439.3 529.6,429.5 530.1,427.8 530.6,491.0 531.1,512.0 531.6,512.0 532.1,512.0 532.6,512.0 533.1,512.0 533.6,512.0 534.0,512.0 534.5,512.0 535.0,512.0 535.4,512.0 535.8,512.0 536.3,512.0 536.7,512.0 537.2,512.0 537.6,512.0 538.0,512.0 538.4,512.0 538.8,512.0 539.2,512.0 539.6,512.0 540.4,512.0 541.2,512.0 542.0,512.0 542.7,512.0 543.5,512.0 544.2,512.0 544.9,512.0 545.6,512.0 546.3,512.0 546.9,512.0 547.6,512.0 548.2,512.0 548.9,512.0 549.5,512.0 550.1,512.0 550.7,512.0 551.3,512.0 551.9,512.0 552.5,512.0 553.0,512.0 553.6,512.0 554.2,512.0 554.7,512.0 555.2,512.0 555.8,512.0 556.3,512.0 556.8,512.0 557.3,512.0 557.8,512.0 558.3,512.0 558.8,512.0 559.3,512.0 559.8,512.0 560.2,512.0 560.7,512.0 561.2,512.0 561.6,512.0 562.1,512.0 562.5,512.0 562.9,512.0 563.4,512.0 563.8,512.0 564.2,512.0 564.6,512.0 565.1,512.0 565.5,512.0 565.9,512.0 566.3,512.0 566.9,512.0 567.5,512.0 568.0,512.0 568.6,512.0 569.2,512.0 569.7,512.0 570.3,512.0 570.8,512.0 571.3,512.0 571.8,512.0 572.4,512.0 572.9,512.0 573.4,512.0 573.9,512.0 574.3,512.0 574.8,512.0 575.3,512.0 575.8,512.0 576.2,512.0 576.7,512.0 577.1,512.0 577.6,512.0 578.0,512.0 578.5,512.0 578.9,512.0 579.3,512.0 579.8,512.0 580.2,512.0 580.6,512.0 581.0,512.0 581.4,512.0 581.8,512.0 582.3,512.0 582.9,512.0 583.4,512.0 583.5,512.0" fill="none" stroke="#008000" stroke-width="1.2" stroke-linejoin="round" marker-start="url(#gp4)" marker-mid="url(#gp4)" marker-end="url(#gp4)"/>
<polyline points="366.0,411.7 392.4,416.4 407.9,414.2 418.9,423.2 427.4,412.3 434.3,410.4 440.2,416.0 445.3,412.3 449.8,419.2 453.8,408.6 457.4,416.4 460.8,413.0 463.8,428.2 466.6,418.2 469.3,420.6 471.7,420.8 474.0,418.9 476.2,420.0 478.3,419.7 480.2,424.8 482.1,427.1 483.9,429.0 485.6,430.5 487.2,431.4 488.7,433.6 490.2,434.1 491.7,428.8 493.1,427.9 494.4,424.7 495.7,424.9 496.9,423.0 498.2,419.3 499.3,415.7 500.5,412.8 501.6,421.7 502.6,429.3 503.7,429.0 504.7,425.4 505.7,425.7 506.7,427.9 507.6,430.7 508.5,435.0 509.4,435.4 510.3,443.7 511.2,449.3 512.0,444.9 512.8,441.4 513.6,439.4 514.4,457.4 515.2,512.0 515.9,512.0 516.7,512.0 517.4,512.0 518.1,512.0 518.8,512.0 519.5,512.0 520.2,512.0 520.8,512.0 521.5,512.0 522.1,512.0 522.8,512.0 523.4,512.0 524.0,512.0 524.6,512.0 525.2,512.0 525.8,512.0 526.3,512.0 526.9,512.0 527.5,512.0 528.0,512.0 528.5,512.0 529.1,512.0 529.6,512.0 530.1,512.0 530.6,512.0 531.1,512.0 531.6,512.0 532.1,512.0 532.6,512.0 533.1,512.0 533.6,512.0 534.0,512.0 534.5,512.0 535.0,512.0 535.4,512.0 535.8,512.0 536.3,512.0 536.7,512.0 537.2,512.0 537.6,512.0 538.0,512.0 538.4,512.0 538.8,512.0 539.2,512.0 539.6,512.0 540.4,512.0 541.2,512.0 542.0,512.0 542.7,512.0 543.5,512.0 544.2,512.0 544.9,512.0 545.6,512.0 546.3,512.0 546.9,512.0 547.6,512.0 548.2,512.0 548.9,512.0 549.5,512.0 550.1,512.0 550.7,512.0 551.3,512.0 551.9,512.0 552.5,512.0 553.0,512.0 553.6,512.0 554.2,512.0 554.7,512.0 555.2,512.0 555.8,512.0 556.3,512.0 556.8,512.0 557.3,512.0 557.8,512.0 558.3,512.0 558.8,512.0 559.3,512.0 559.8,512.0 560.2,512.0 560.7,512.0 561.2,512.0 561.6,512.0 562.1,512.0 562.5,512.0 562.9,512.0 563.4,512.0 563.8,512.0 564.2,512.0 564.6,512.0 565.1,512.0 565.5,512.0 565.9,512.0 566.3,512.0 566.9,512.0 567.5,512.0 568.0,512.0 568.6,512.0 569.2,512.0 569.7,512.0 570.3,512.0 570.8,512.0 571.3,512.0 571.8,512.0 572.4,512.0 572.9,512.0 573.4,512.0 573.9,512.0 574.3,512.0 574.8,512.0 575.3,512.0 575.8,512.0 576.2,512.0 576.7,512.0 577.1,512.0 577.6,512.0 578.0,512.0 578.5,512.0 578.9,512.0 579.3,512.0 579.8,512.0 580.2,512.0 580.6,512.0 581.0,512.0 581.4,512.0 581.8,512.0 582.3,512.0 582.9,512.0 583.4,512.0 583.5,512.0" fill="none" stroke="#ff0000" stroke-width="1.2" stroke-linejoin="round" marker-start="url(#rs4)" marker-mid="url(#rs4)" marker-end="url(#rs4)"/>
<polyline points="366.0,427.5 392.4,429.0 407.9,427.5 418.9,430.9 427.4,421.9 434.3,424.7 440.2,429.4 445.3,427.5 449.8,431.2 453.8,426.6 457.4,432.2 460.8,434.5 463.8,437.8 466.6,435.3 469.3,435.9 471.7,435.3 474.0,435.8 476.2,437.9 478.3,436.0 480.2,435.3 482.1,437.7 483.9,439.2 485.6,439.0 487.2,441.4 488.7,442.5 490.2,445.9 491.7,447.9 493.1,450.8 494.4,454.1 495.7,445.6 496.9,440.7 498.2,432.7 499.3,427.0 500.5,428.7 501.6,443.5 502.6,465.3 503.7,507.7 504.7,512.0 505.7,512.0 506.7,512.0 507.6,512.0 508.5,512.0 509.4,512.0 510.3,512.0 511.2,512.0 512.0,512.0 512.8,512.0 513.6,512.0 514.4,512.0 515.2,512.0 515.9,512.0 516.7,512.0 517.4,512.0 518.1,512.0 518.8,512.0 519.5,512.0 520.2,512.0 520.8,512.0 521.5,512.0 522.1,512.0 522.8,512.0 523.4,512.0 524.0,512.0 524.6,512.0 525.2,512.0 525.8,512.0 526.3,512.0 526.9,512.0 527.5,512.0 528.0,512.0 528.5,512.0 529.1,512.0 529.6,512.0 530.1,512.0 530.6,512.0 531.1,512.0 531.6,512.0 532.1,512.0 532.6,512.0 533.1,512.0 533.6,512.0 534.0,512.0 534.5,512.0 535.0,512.0 535.4,512.0 535.8,512.0 536.3,512.0 536.7,512.0 537.2,512.0 537.6,512.0 538.0,512.0 538.4,512.0 538.8,512.0 539.2,512.0 539.6,512.0 540.4,512.0 541.2,512.0 542.0,512.0 542.7,512.0 543.5,512.0 544.2,512.0 544.9,512.0 545.6,512.0 546.3,512.0 546.9,512.0 547.6,512.0 548.2,512.0 548.9,512.0 549.5,512.0 550.1,512.0 550.7,512.0 551.3,512.0 551.9,512.0 552.5,512.0 553.0,512.0 553.6,512.0 554.2,512.0 554.7,512.0 555.2,512.0 555.8,512.0 556.3,512.0 556.8,512.0 557.3,512.0 557.8,512.0 558.3,512.0 558.8,512.0 559.3,512.0 559.8,512.0 560.2,512.0 560.7,512.0 561.2,512.0 561.6,512.0 562.1,512.0 562.5,512.0 562.9,512.0 563.4,512.0 563.8,512.0 564.2,512.0 564.6,512.0 565.1,512.0 565.5,512.0 565.9,512.0 566.3,512.0 566.9,512.0 567.5,512.0 568.0,512.0 568.6,512.0 569.2,512.0 569.7,512.0 570.3,512.0 570.8,512.0 571.3,512.0 571.8,512.0 572.4,512.0 572.9,512.0 573.4,512.0 573.9,512.0 574.3,512.0 574.8,512.0 575.3,512.0 575.8,512.0 576.2,512.0 576.7,512.0 577.1,512.0 577.6,512.0 578.0,512.0 578.5,512.0 578.9,512.0 579.3,512.0 579.8,512.0 580.2,512.0 580.6,512.0 581.0,512.0 581.4,512.0 581.8,512.0 582.3,512.0 582.9,512.0 583.4,512.0 583.5,512.0" fill="none" stroke="#00bfbf" stroke-width="1.2" stroke-linejoin="round" stroke-dasharray="1.3,1.3"/>
<polyline points="366.0,440.5 392.4,440.1 407.9,439.0 418.9,437.2 427.4,433.1 434.3,435.9 440.2,439.6 445.3,438.6 449.8,442.7 453.8,438.3 457.4,444.2 460.8,447.9 463.8,448.8 466.6,444.4 469.3,444.8 471.7,445.2 474.0,447.4 476.2,443.9 478.3,440.3 480.2,440.6 482.1,445.4 483.9,451.2 485.6,454.8 487.2,455.8 488.7,448.4 490.2,454.7 491.7,466.5 493.1,472.0 494.4,484.0 495.7,512.0 496.9,512.0 498.2,512.0 499.3,512.0 500.5,512.0 501.6,512.0 502.6,512.0 503.7,512.0 504.7,512.0 505.7,512.0 506.7,512.0 507.6,512.0 508.5,512.0 509.4,512.0 510.3,512.0 511.2,512.0 512.0,512.0 512.8,512.0 513.6,512.0 514.4,512.0 515.2,512.0 515.9,512.0 516.7,512.0 517.4,512.0 518.1,512.0 518.8,512.0 519.5,512.0 520.2,512.0 520.8,512.0 521.5,512.0 522.1,512.0 522.8,512.0 523.4,512.0 524.0,512.0 524.6,512.0 525.2,512.0 525.8,512.0 526.3,512.0 526.9,512.0 527.5,512.0 528.0,512.0 528.5,512.0 529.1,512.0 529.6,512.0 530.1,512.0 530.6,512.0 531.1,512.0 531.6,512.0 532.1,512.0 532.6,512.0 533.1,512.0 533.6,512.0 534.0,512.0 534.5,512.0 535.0,512.0 535.4,512.0 535.8,512.0 536.3,512.0 536.7,512.0 537.2,512.0 537.6,512.0 538.0,512.0 538.4,512.0 538.8,512.0 539.2,512.0 539.6,512.0 540.4,512.0 541.2,512.0 542.0,512.0 542.7,512.0 543.5,512.0 544.2,512.0 544.9,512.0 545.6,512.0 546.3,512.0 546.9,512.0 547.6,512.0 548.2,512.0 548.9,512.0 549.5,512.0 550.1,512.0 550.7,512.0 551.3,512.0 551.9,512.0 552.5,512.0 553.0,512.0 553.6,512.0 554.2,512.0 554.7,512.0 555.2,512.0 555.8,512.0 556.3,512.0 556.8,512.0 557.3,512.0 557.8,512.0 558.3,512.0 558.8,512.0 559.3,512.0 559.8,512.0 560.2,512.0 560.7,512.0 561.2,512.0 561.6,512.0 562.1,512.0 562.5,512.0 562.9,512.0 563.4,512.0 563.8,512.0 564.2,512.0 564.6,512.0 565.1,512.0 565.5,512.0 565.9,512.0 566.3,512.0 566.9,512.0 567.5,512.0 568.0,512.0 568.6,512.0 569.2,512.0 569.7,512.0 570.3,512.0 570.8,512.0 571.3,512.0 571.8,512.0 572.4,512.0 572.9,512.0 573.4,512.0 573.9,512.0 574.3,512.0 574.8,512.0 575.3,512.0 575.8,512.0 576.2,512.0 576.7,512.0 577.1,512.0 577.6,512.0 578.0,512.0 578.5,512.0 578.9,512.0 579.3,512.0 579.8,512.0 580.2,512.0 580.6,512.0 581.0,512.0 581.4,512.0 581.8,512.0 582.3,512.0 582.9,512.0 583.4,512.0 583.5,512.0" fill="none" stroke="#bf00bf" stroke-width="1.2" stroke-linejoin="round" marker-start="url(#mx4)" marker-mid="url(#mx4)" marker-end="url(#mx4)"/>
<polyline points="366.0,450.7 392.4,449.8 407.9,447.9 418.9,445.1 427.4,442.0 434.3,443.8 440.2,447.9 445.3,447.9 449.8,452.6 453.8,447.9 457.4,453.5 460.8,451.5 463.8,455.3 466.6,449.6 469.3,452.9 471.7,454.7 474.0,451.2 476.2,462.2 478.3,459.8 480.2,456.5 482.1,454.6 483.9,468.1 485.6,476.0 487.2,504.2 488.7,512.0 490.2,512.0 491.7,512.0 493.1,512.0 494.4,512.0 495.7,512.0 496.9,512.0 498.2,512.0 499.3,512.0 500.5,512.0 501.6,512.0 502.6,512.0 503.7,512.0 504.7,512.0 505.7,512.0 506.7,512.0 507.6,512.0 508.5,512.0 509.4,512.0 510.3,512.0 511.2,512.0 512.0,512.0 512.8,512.0 513.6,512.0 514.4,512.0 515.2,512.0 515.9,512.0 516.7,512.0 517.4,512.0 518.1,512.0 518.8,512.0 519.5,512.0 520.2,512.0 520.8,512.0 521.5,512.0 522.1,512.0 522.8,512.0 523.4,512.0 524.0,512.0 524.6,512.0 525.2,512.0 525.8,512.0 526.3,512.0 526.9,512.0 527.5,512.0 528.0,512.0 528.5,512.0 529.1,512.0 529.6,512.0 530.1,512.0 530.6,512.0 531.1,512.0 531.6,512.0 532.1,512.0 532.6,512.0 533.1,512.0 533.6,512.0 534.0,512.0 534.5,512.0 535.0,512.0 535.4,512.0 535.8,512.0 536.3,512.0 536.7,512.0 537.2,512.0 537.6,512.0 538.0,512.0 538.4,512.0 538.8,512.0 539.2,512.0 539.6,512.0 540.4,512.0 541.2,512.0 542.0,512.0 542.7,512.0 543.5,512.0 544.2,512.0 544.9,512.0 545.6,512.0 546.3,512.0 546.9,512.0 547.6,512.0 548.2,512.0 548.9,512.0 549.5,512.0 550.1,512.0 550.7,512.0 551.3,512.0 551.9,512.0 552.5,512.0 553.0,512.0 553.6,512.0 554.2,512.0 554.7,512.0 555.2,512.0 555.8,512.0 556.3,512.0 556.8,512.0 557.3,512.0 557.8,512.0 558.3,512.0 558.8,512.0 559.3,512.0 559.8,512.0 560.2,512.0 560.7,512.0 561.2,512.0 561.6,512.0 562.1,512.0 562.5,512.0 562.9,512.0 563.4,512.0 563.8,512.0 564.2,512.0 564.6,512.0 565.1,512.0 565.5,512.0 565.9,512.0 566.3,512.0 566.9,512.0 567.5,512.0 568.0,512.0 568.6,512.0 569.2,512.0 569.7,512.0 570.3,512.0 570.8,512.0 571.3,512.0 571.8,512.0 572.4,512.0 572.9,512.0 573.4,512.0 573.9,512.0 574.3,512.0 574.8,512.0 575.3,512.0 575.8,512.0 576.2,512.0 576.7,512.0 577.1,512.0 577.6,512.0 578.0,512.0 578.5,512.0 578.9,512.0 579.3,512.0 579.8,512.0 580.2,512.0 580.6,512.0 581.0,512.0 581.4,512.0 581.8,512.0 582.3,512.0 582.9,512.0 583.4,512.0 583.5,512.0" fill="none" stroke="#bfbf00" stroke-width="1.2" stroke-linejoin="round" marker-start="url(#ys4)" marker-mid="url(#ys4)" marker-end="url(#ys4)"/>
<line x1="487" y1="512.3" x2="585.6" y2="512.3" stroke="#bfbf00" stroke-width="3.4" />
<line x1="557" y1="292" x2="557" y2="512" stroke="#0000ff" stroke-width="2" />
</svg></body></html>
